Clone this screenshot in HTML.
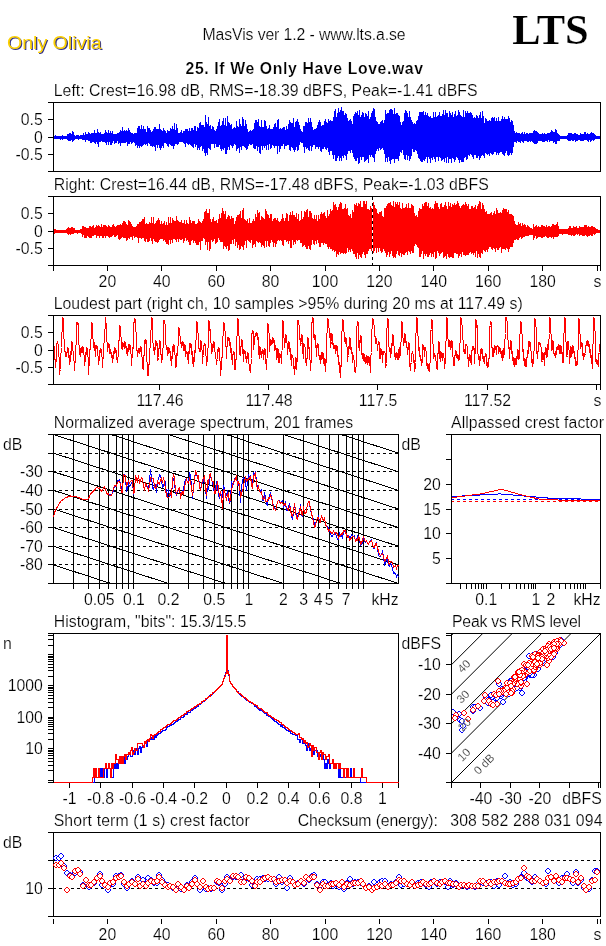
<!DOCTYPE html>
<html lang="en"><head><meta charset="utf-8"><title>MasVis - 25. If We Only Have Love.wav</title>
<style>html,body{margin:0;padding:0;background:#fff}svg{display:block}text{white-space:pre;stroke:#fff;stroke-width:.2px}.ns text,text.ns{stroke:none}</style></head>
<body>
<svg width="606" height="946" viewBox="0 0 606 946" font-family="'Liberation Sans', Arial, Helvetica, sans-serif" font-size="15.8" fill="#000">
<rect width="606" height="946" fill="#fff"/>
<g font-size="19.2" class="ns">
<text x="8.1" y="49.7" fill="#34348a" textLength="94.5" lengthAdjust="spacingAndGlyphs">Only Olivia</text>
<text x="7" y="48.6" fill="#fcd000" textLength="94.5" lengthAdjust="spacingAndGlyphs">Only Olivia</text>
</g>
<text x="304" y="40" text-anchor="middle" textLength="203" lengthAdjust="spacing">MasVis ver 1.2 - www.lts.a.se</text>
<text x="550.4" y="44.2" text-anchor="middle" font-weight="bold" font-size="42.5" font-family="'Liberation Serif', 'Times New Roman', serif" textLength="76.5" lengthAdjust="spacing">LTS</text>
<text x="304.3" y="74" text-anchor="middle" font-weight="bold" textLength="237.5" lengthAdjust="spacing">25. If We Only Have Love.wav</text>
<g stroke="#000" stroke-width="1" fill="none" shape-rendering="crispEdges">
<path d="M54.5 136V139M55.5 135V139M56.5 136V139M57.5 136V139M58.5 136V139M59.5 136V139M60.5 136V140M61.5 136V139M62.5 135V140M63.5 136V139M64.5 136V139M65.5 136V139M66.5 136V139M67.5 134V140M68.5 134V141M69.5 133V141M70.5 133V141M71.5 134V140M72.5 131V142M73.5 132V141M74.5 135V140M75.5 136V139M76.5 135V139M77.5 135V139M78.5 135V140M79.5 136V139M80.5 135V139M81.5 135V139M82.5 135V140M83.5 133V140M84.5 135V140M85.5 132V142M86.5 134V140M87.5 134V140M88.5 132V141M89.5 133V141M90.5 134V143M91.5 133V143M92.5 133V142M93.5 133V142M94.5 130V143M95.5 133V144M96.5 133V142M97.5 129V144M98.5 132V147M99.5 133V142M100.5 132V142M101.5 134V141M102.5 134V142M103.5 134V142M104.5 133V142M105.5 130V143M106.5 132V145M107.5 133V142M108.5 130V145M109.5 133V142M110.5 131V145M111.5 133V145M112.5 131V143M113.5 134V141M114.5 134V144M115.5 134V143M116.5 134V143M117.5 133V141M118.5 133V144M119.5 132V143M120.5 130V146M121.5 131V143M122.5 127V143M123.5 131V143M124.5 130V143M125.5 131V143M126.5 130V142M127.5 131V146M128.5 128V144M129.5 130V144M130.5 132V142M131.5 133V144M132.5 133V143M133.5 134V142M134.5 133V143M135.5 133V146M136.5 133V145M137.5 128V148M138.5 126V146M139.5 126V148M140.5 129V146M141.5 125V147M142.5 129V146M143.5 126V145M144.5 129V144M145.5 129V145M146.5 132V144M147.5 126V146M148.5 128V143M149.5 128V144M150.5 130V146M151.5 132V146M152.5 131V147M153.5 129V146M154.5 127V147M155.5 127V151M156.5 129V145M157.5 129V148M158.5 129V145M159.5 124V148M160.5 129V150M161.5 130V148M162.5 131V146M163.5 128V148M164.5 130V143M165.5 131V143M166.5 133V144M167.5 130V146M168.5 131V147M169.5 131V144M170.5 128V145M171.5 129V146M172.5 126V146M173.5 129V149M174.5 123V146M175.5 130V144M176.5 124V144M177.5 128V145M178.5 133V144M179.5 133V142M180.5 132V142M181.5 130V142M182.5 133V142M183.5 131V143M184.5 131V144M185.5 129V147M186.5 129V143M187.5 129V144M188.5 131V145M189.5 128V144M190.5 131V145M191.5 128V146M192.5 128V147M193.5 130V148M194.5 126V144M195.5 126V147M196.5 131V145M197.5 127V150M198.5 128V148M199.5 123V150M200.5 122V147M201.5 125V146M202.5 125V151M203.5 125V149M204.5 127V153M205.5 115V156M206.5 122V153M207.5 124V155M208.5 117V148M209.5 126V149M210.5 125V150M211.5 129V144M212.5 126V144M213.5 127V144M214.5 130V148M215.5 131V144M216.5 129V147M217.5 126V147M218.5 122V147M219.5 119V145M220.5 126V149M221.5 125V151M222.5 121V149M223.5 118V150M224.5 125V148M225.5 118V154M226.5 126V154M227.5 116V150M228.5 122V147M229.5 123V150M230.5 125V145M231.5 124V146M232.5 129V148M233.5 128V146M234.5 127V144M235.5 128V145M236.5 121V151M237.5 126V149M238.5 127V148M239.5 119V153M240.5 124V147M241.5 126V150M242.5 117V146M243.5 119V146M244.5 126V147M245.5 120V148M246.5 124V150M247.5 129V149M248.5 132V146M249.5 131V144M250.5 130V145M251.5 131V145M252.5 130V144M253.5 129V148M254.5 123V149M255.5 120V149M256.5 120V146M257.5 122V151M258.5 119V147M259.5 126V153M260.5 127V154M261.5 120V146M262.5 127V150M263.5 127V146M264.5 120V148M265.5 121V146M266.5 126V150M267.5 129V145M268.5 128V150M269.5 125V144M270.5 129V149M271.5 129V148M272.5 129V145M273.5 127V146M274.5 124V148M275.5 123V146M276.5 127V146M277.5 120V154M278.5 119V146M279.5 129V152M280.5 128V149M281.5 129V146M282.5 128V146M283.5 127V144M284.5 127V149M285.5 130V146M286.5 126V146M287.5 129V145M288.5 124V145M289.5 120V150M290.5 122V151M291.5 123V147M292.5 123V148M293.5 118V150M294.5 127V152M295.5 122V150M296.5 121V147M297.5 119V151M298.5 122V150M299.5 125V145M300.5 129V142M301.5 131V143M302.5 132V143M303.5 126V147M304.5 126V153M305.5 122V147M306.5 122V149M307.5 123V148M308.5 118V150M309.5 122V151M310.5 118V146M311.5 122V151M312.5 127V147M313.5 130V145M314.5 129V145M315.5 129V149M316.5 128V147M317.5 125V147M318.5 122V149M319.5 120V147M320.5 122V151M321.5 126V152M322.5 125V149M323.5 125V149M324.5 121V147M325.5 119V149M326.5 122V150M327.5 123V148M328.5 119V152M329.5 121V155M330.5 120V151M331.5 121V151M332.5 121V155M333.5 117V159M334.5 111V155M335.5 109V161M336.5 117V161M337.5 113V158M338.5 108V156M339.5 112V161M340.5 110V158M341.5 107V161M342.5 111V156M343.5 111V158M344.5 115V155M345.5 113V156M346.5 114V160M347.5 118V154M348.5 121V151M349.5 120V151M350.5 119V153M351.5 121V150M352.5 124V153M353.5 116V157M354.5 114V159M355.5 112V161M356.5 113V161M357.5 111V158M358.5 115V164M359.5 110V163M360.5 117V157M361.5 115V160M362.5 112V157M363.5 113V157M364.5 117V162M365.5 113V161M366.5 114V160M367.5 116V159M368.5 111V163M369.5 119V155M370.5 117V157M371.5 113V155M372.5 111V157M373.5 108V158M374.5 109V162M375.5 117V154M376.5 121V151M377.5 122V149M378.5 124V151M379.5 124V148M380.5 122V150M381.5 121V149M382.5 120V148M383.5 123V150M384.5 120V154M385.5 110V162M386.5 114V158M387.5 113V162M388.5 113V157M389.5 110V161M390.5 109V164M391.5 109V160M392.5 110V159M393.5 114V159M394.5 108V163M395.5 114V159M396.5 113V159M397.5 113V159M398.5 115V161M399.5 116V156M400.5 122V152M401.5 125V153M402.5 122V150M403.5 121V155M404.5 113V159M405.5 110V160M406.5 111V155M407.5 113V160M408.5 117V156M409.5 111V161M410.5 117V159M411.5 120V156M412.5 122V149M413.5 124V152M414.5 123V152M415.5 124V150M416.5 121V151M417.5 120V154M418.5 116V158M419.5 112V159M420.5 112V161M421.5 112V162M422.5 112V162M423.5 111V160M424.5 115V161M425.5 112V159M426.5 115V157M427.5 113V163M428.5 116V157M429.5 117V159M430.5 116V163M431.5 118V158M432.5 118V160M433.5 112V157M434.5 117V159M435.5 112V162M436.5 117V157M437.5 116V157M438.5 115V161M439.5 112V157M440.5 116V158M441.5 116V161M442.5 114V160M443.5 110V159M444.5 115V162M445.5 110V158M446.5 113V163M447.5 113V157M448.5 117V163M449.5 111V159M450.5 113V159M451.5 115V163M452.5 112V158M453.5 117V159M454.5 114V162M455.5 111V160M456.5 116V157M457.5 115V158M458.5 110V160M459.5 112V163M460.5 115V160M461.5 116V162M462.5 117V162M463.5 110V162M464.5 117V158M465.5 111V157M466.5 113V160M467.5 111V159M468.5 113V155M469.5 113V156M470.5 112V154M471.5 113V155M472.5 115V157M473.5 118V159M474.5 117V155M475.5 118V155M476.5 115V158M477.5 116V158M478.5 118V156M479.5 115V160M480.5 112V158M481.5 118V156M482.5 111V155M483.5 116V156M484.5 123V158M485.5 118V153M486.5 119V154M487.5 121V155M488.5 121V154M489.5 120V156M490.5 121V153M491.5 118V154M492.5 117V155M493.5 118V154M494.5 117V152M495.5 121V152M496.5 118V155M497.5 121V153M498.5 117V155M499.5 121V153M500.5 121V152M501.5 119V152M502.5 116V154M503.5 119V155M504.5 117V156M505.5 119V153M506.5 119V151M507.5 119V155M508.5 116V156M509.5 118V155M510.5 122V153M511.5 120V155M512.5 121V153M513.5 125V147M514.5 131V142M515.5 133V142M516.5 132V143M517.5 133V141M518.5 133V142M519.5 133V142M520.5 134V143M521.5 133V141M522.5 132V142M523.5 134V143M524.5 132V141M525.5 134V141M526.5 133V141M527.5 133V142M528.5 134V142M529.5 133V141M530.5 133V142M531.5 133V141M532.5 133V142M533.5 131V143M534.5 130V144M535.5 131V144M536.5 131V144M537.5 132V143M538.5 133V141M539.5 134V141M540.5 134V141M541.5 134V141M542.5 133V142M543.5 134V142M544.5 133V142M545.5 134V141M546.5 134V141M547.5 133V142M548.5 133V140M549.5 133V142M550.5 132V141M551.5 130V141M552.5 131V141M553.5 132V143M554.5 132V142M555.5 129V144M556.5 130V144M557.5 133V141M558.5 134V141M559.5 135V141M560.5 136V139M561.5 136V139M562.5 136V139M563.5 136V139M564.5 136V139M565.5 136V139M566.5 136V139M567.5 135V140M568.5 133V141M569.5 133V141M570.5 133V141M571.5 133V140M572.5 134V141M573.5 134V141M574.5 133V140M575.5 133V142M576.5 134V141M577.5 134V141M578.5 135V140M579.5 135V140M580.5 133V141M581.5 134V141M582.5 134V141M583.5 134V141M584.5 132V140M585.5 132V140M586.5 134V140M587.5 133V141M588.5 134V142M589.5 134V140M590.5 133V142M591.5 132V141M592.5 133V140M593.5 133V141M594.5 134V140M595.5 135V139M596.5 136V139M597.5 136V139M598.5 136V139M599.5 136V139" stroke="#0000ff"/>
<rect x="53.5" y="102.5" width="547" height="69" fill="none"/>
<path d="M48 102.5H53"/>
<path d="M48 119.5H53"/>
<path d="M48 137.5H53"/>
<path d="M48 154.5H53"/>
<path d="M48 171.5H53"/>
<path d="M54.5 229V234M55.5 229V233M56.5 230V233M57.5 230V233M58.5 230V233M59.5 230V233M60.5 230V233M61.5 230V233M62.5 230V233M63.5 230V233M64.5 230V233M65.5 230V233M66.5 229V233M67.5 228V234M68.5 227V235M69.5 228V234M70.5 228V235M71.5 227V234M72.5 227V234M73.5 228V234M74.5 228V233M75.5 230V233M76.5 230V233M77.5 230V234M78.5 230V233M79.5 230V233M80.5 229V233M81.5 229V234M82.5 226V237M83.5 226V235M84.5 227V238M85.5 227V238M86.5 228V238M87.5 228V236M88.5 228V237M89.5 226V238M90.5 226V238M91.5 227V238M92.5 226V236M93.5 225V236M94.5 228V235M95.5 227V235M96.5 225V238M97.5 226V236M98.5 225V236M99.5 226V238M100.5 227V236M101.5 224V236M102.5 227V238M103.5 225V238M104.5 225V236M105.5 225V238M106.5 226V236M107.5 227V236M108.5 225V237M109.5 226V238M110.5 227V237M111.5 227V237M112.5 225V236M113.5 224V235M114.5 226V237M115.5 227V237M116.5 226V236M117.5 225V235M118.5 225V239M119.5 225V240M120.5 224V239M121.5 225V238M122.5 223V237M123.5 221V238M124.5 221V238M125.5 222V238M126.5 224V241M127.5 225V240M128.5 220V238M129.5 221V239M130.5 222V237M131.5 224V237M132.5 226V240M133.5 227V236M134.5 227V238M135.5 227V237M136.5 226V237M137.5 224V238M138.5 224V243M139.5 222V238M140.5 222V238M141.5 221V239M142.5 219V238M143.5 219V238M144.5 217V241M145.5 224V242M146.5 223V239M147.5 224V242M148.5 224V242M149.5 222V241M150.5 223V238M151.5 217V241M152.5 223V244M153.5 217V239M154.5 224V241M155.5 223V242M156.5 221V242M157.5 220V243M158.5 218V242M159.5 220V240M160.5 224V239M161.5 221V239M162.5 224V239M163.5 223V241M164.5 221V240M165.5 225V242M166.5 222V244M167.5 225V244M168.5 217V245M169.5 223V240M170.5 217V244M171.5 223V240M172.5 218V243M173.5 220V239M174.5 221V239M175.5 221V240M176.5 216V242M177.5 220V239M178.5 221V242M179.5 222V239M180.5 222V240M181.5 220V240M182.5 223V239M183.5 223V243M184.5 220V241M185.5 224V238M186.5 220V241M187.5 223V240M188.5 224V242M189.5 217V245M190.5 220V245M191.5 223V241M192.5 221V240M193.5 221V243M194.5 221V241M195.5 224V243M196.5 224V245M197.5 223V245M198.5 219V245M199.5 221V242M200.5 222V250M201.5 223V241M202.5 221V241M203.5 219V238M204.5 212V239M205.5 211V245M206.5 209V242M207.5 213V250M208.5 213V242M209.5 209V251M210.5 219V249M211.5 222V240M212.5 219V242M213.5 217V241M214.5 221V239M215.5 221V244M216.5 220V243M217.5 223V242M218.5 219V238M219.5 214V240M220.5 218V242M221.5 213V242M222.5 208V242M223.5 211V249M224.5 214V246M225.5 211V247M226.5 219V249M227.5 217V246M228.5 215V251M229.5 216V250M230.5 219V244M231.5 216V244M232.5 218V240M233.5 218V244M234.5 224V239M235.5 221V246M236.5 217V242M237.5 215V248M238.5 215V245M239.5 214V250M240.5 211V249M241.5 218V246M242.5 210V247M243.5 208V250M244.5 219V245M245.5 220V241M246.5 221V248M247.5 219V240M248.5 223V241M249.5 218V242M250.5 223V243M251.5 223V240M252.5 221V248M253.5 219V245M254.5 221V244M255.5 214V247M256.5 217V241M257.5 210V242M258.5 213V243M259.5 212V242M260.5 220V243M261.5 216V247M262.5 217V245M263.5 218V246M264.5 219V248M265.5 209V241M266.5 211V247M267.5 214V241M268.5 215V246M269.5 218V247M270.5 214V243M271.5 214V240M272.5 221V242M273.5 219V247M274.5 218V243M275.5 218V247M276.5 220V244M277.5 218V241M278.5 221V240M279.5 222V241M280.5 221V240M281.5 219V241M282.5 214V245M283.5 218V246M284.5 221V240M285.5 218V240M286.5 213V242M287.5 214V241M288.5 221V244M289.5 215V241M290.5 212V248M291.5 215V248M292.5 211V240M293.5 215V245M294.5 215V242M295.5 217V244M296.5 213V240M297.5 219V241M298.5 214V240M299.5 221V240M300.5 220V243M301.5 211V243M302.5 219V247M303.5 217V246M304.5 211V245M305.5 212V247M306.5 210V249M307.5 209V249M308.5 217V246M309.5 211V249M310.5 211V250M311.5 213V245M312.5 218V240M313.5 219V244M314.5 215V245M315.5 219V241M316.5 215V244M317.5 221V240M318.5 215V243M319.5 219V247M320.5 214V247M321.5 212V243M322.5 214V243M323.5 213V245M324.5 212V243M325.5 216V244M326.5 218V244M327.5 210V247M328.5 216V249M329.5 214V247M330.5 209V249M331.5 211V249M332.5 210V251M333.5 202V250M334.5 205V252M335.5 204V251M336.5 207V257M337.5 210V254M338.5 207V255M339.5 204V252M340.5 202V254M341.5 203V253M342.5 209V253M343.5 209V254M344.5 208V253M345.5 204V254M346.5 209V253M347.5 208V248M348.5 215V252M349.5 216V250M350.5 214V252M351.5 218V249M352.5 210V251M353.5 212V254M354.5 204V254M355.5 205V257M356.5 203V259M357.5 206V253M358.5 203V259M359.5 204V255M360.5 201V257M361.5 207V258M362.5 207V254M363.5 201V252M364.5 201V255M365.5 204V258M366.5 201V254M367.5 209V254M368.5 209V251M369.5 210V249M370.5 206V249M371.5 208V251M372.5 209V255M373.5 202V253M374.5 205V251M375.5 208V248M376.5 209V253M377.5 213V248M378.5 214V252M379.5 212V248M380.5 212V251M381.5 211V253M382.5 216V252M383.5 217V249M384.5 208V251M385.5 208V253M386.5 206V257M387.5 204V255M388.5 203V252M389.5 203V257M390.5 202V254M391.5 205V251M392.5 206V256M393.5 201V258M394.5 207V257M395.5 202V258M396.5 204V254M397.5 202V251M398.5 205V255M399.5 202V256M400.5 208V253M401.5 209V257M402.5 203V254M403.5 208V255M404.5 208V255M405.5 207V253M406.5 204V252M407.5 208V255M408.5 203V251M409.5 208V252M410.5 208V254M411.5 204V251M412.5 205V253M413.5 206V253M414.5 213V246M415.5 216V244M416.5 215V245M417.5 217V247M418.5 211V248M419.5 208V257M420.5 209V257M421.5 209V254M422.5 204V251M423.5 206V259M424.5 203V254M425.5 202V256M426.5 202V254M427.5 206V257M428.5 203V257M429.5 208V255M430.5 207V253M431.5 209V257M432.5 208V254M433.5 209V257M434.5 204V252M435.5 201V259M436.5 203V258M437.5 203V251M438.5 207V253M439.5 209V256M440.5 204V254M441.5 203V253M442.5 207V252M443.5 207V258M444.5 205V257M445.5 202V256M446.5 206V259M447.5 209V254M448.5 202V257M449.5 206V258M450.5 203V257M451.5 207V257M452.5 204V258M453.5 205V258M454.5 203V253M455.5 205V253M456.5 204V254M457.5 201V254M458.5 203V258M459.5 206V256M460.5 208V254M461.5 206V257M462.5 205V252M463.5 204V255M464.5 205V255M465.5 202V256M466.5 204V255M467.5 206V255M468.5 204V255M469.5 209V253M470.5 209V252M471.5 206V254M472.5 206V253M473.5 208V255M474.5 207V253M475.5 205V257M476.5 209V251M477.5 206V258M478.5 204V254M479.5 201V257M480.5 202V258M481.5 209V253M482.5 203V254M483.5 205V250M484.5 209V251M485.5 212V252M486.5 211V250M487.5 214V252M488.5 214V249M489.5 214V247M490.5 213V247M491.5 212V249M492.5 215V250M493.5 213V248M494.5 211V249M495.5 214V252M496.5 208V248M497.5 210V250M498.5 213V250M499.5 213V248M500.5 212V247M501.5 213V253M502.5 210V249M503.5 208V249M504.5 209V249M505.5 209V250M506.5 209V248M507.5 212V249M508.5 210V252M509.5 214V249M510.5 214V247M511.5 214V247M512.5 215V247M513.5 216V243M514.5 221V240M515.5 224V240M516.5 225V239M517.5 225V240M518.5 222V240M519.5 224V238M520.5 223V237M521.5 226V239M522.5 223V238M523.5 225V237M524.5 224V237M525.5 225V236M526.5 227V236M527.5 225V236M528.5 226V236M529.5 227V235M530.5 228V235M531.5 228V235M532.5 229V235M533.5 224V240M534.5 227V238M535.5 226V236M536.5 225V239M537.5 227V238M538.5 226V237M539.5 227V237M540.5 227V237M541.5 225V238M542.5 225V238M543.5 226V237M544.5 226V237M545.5 227V236M546.5 225V237M547.5 227V238M548.5 226V238M549.5 226V237M550.5 227V237M551.5 226V238M552.5 224V237M553.5 224V239M554.5 225V237M555.5 225V237M556.5 224V237M557.5 222V237M558.5 226V236M559.5 229V234M560.5 229V234M561.5 229V234M562.5 229V235M563.5 229V234M564.5 229V234M565.5 229V234M566.5 229V234M567.5 229V234M568.5 228V235M569.5 226V235M570.5 226V235M571.5 228V236M572.5 228V235M573.5 226V236M574.5 227V236M575.5 227V235M576.5 226V234M577.5 228V235M578.5 228V234M579.5 226V236M580.5 227V235M581.5 227V235M582.5 227V236M583.5 227V236M584.5 225V236M585.5 225V235M586.5 225V236M587.5 227V237M588.5 226V236M589.5 227V236M590.5 227V235M591.5 226V236M592.5 226V236M593.5 227V234M594.5 227V235M595.5 228V234M596.5 229V233M597.5 229V233M598.5 230V233M599.5 230V233" stroke="#ff0000"/>
<path d="M372.5 197V265" stroke="#fff"/>
<path d="M372.5 197V265" stroke-dasharray="3 3"/>
<rect x="53.5" y="196.5" width="547" height="69" fill="none"/>
<path d="M48 196.5H53"/>
<path d="M48 213.5H53"/>
<path d="M48 231.5H53"/>
<path d="M48 248.5H53"/>
<path d="M48 265.5H53"/>
<path d="M53.5 266V271"/>
<path d="M107.5 266V271"/>
<path d="M161.5 266V271"/>
<path d="M216.5 266V271"/>
<path d="M270.5 266V271"/>
<path d="M325.5 266V271"/>
<path d="M379.5 266V271"/>
<path d="M433.5 266V271"/>
<path d="M488.5 266V271"/>
<path d="M542.5 266V271"/>
<path d="M597.5 266V271"/>
<path d="M600.5 266V271"/>
<path d="M53.5 347.5L54.0 345.5L54.5 359.5L55.0 358.5L55.5 367.5L56.0 362.5L56.5 358.5L57.0 343.5L57.5 342.5L58.0 343.5L58.5 355.5L59.0 356.5L59.5 374.5L60.0 370.5L60.5 369.5L61.0 353.5L61.5 347.5L62.0 332.5L62.5 323.5L63.0 317.5L63.5 335.5L64.0 338.5L64.5 347.5L65.0 351.5L65.5 356.5L66.0 351.5L66.5 356.5L67.0 353.5L67.5 349.5L68.0 347.5L68.5 357.5L69.0 354.5L69.5 364.5L70.0 359.5L70.5 361.5L71.0 351.5L71.5 354.5L72.0 341.5L72.5 348.5L73.0 350.5L73.5 358.5L74.0 360.5L74.5 370.5L75.0 361.5L75.5 362.5L76.0 345.5L76.5 334.5L77.0 322.5L77.5 323.5L78.0 322.5L78.5 342.5L79.0 344.5L79.5 354.5L80.0 349.5L80.5 356.5L81.0 348.5L81.5 352.5L82.0 347.5L82.5 352.5L83.0 346.5L83.5 352.5L84.0 354.5L84.5 365.5L85.0 359.5L85.5 361.5L86.0 352.5L86.5 353.5L87.0 347.5L87.5 356.5L88.0 356.5L88.5 374.5L89.0 366.5L89.5 362.5L90.0 349.5L90.5 349.5L91.0 339.5L91.5 325.5L92.0 322.5L92.5 333.5L93.0 338.5L93.5 347.5L94.0 341.5L94.5 350.5L95.0 346.5L95.5 356.5L96.0 345.5L96.5 348.5L97.0 345.5L97.5 354.5L98.0 355.5L98.5 364.5L99.0 357.5L99.5 360.5L100.0 350.5L100.5 352.5L101.0 348.5L101.5 355.5L102.0 356.5L102.5 367.5L103.0 358.5L103.5 356.5L104.0 343.5L104.5 339.5L105.0 329.5L105.5 317.5L106.0 322.5L106.5 338.5L107.0 341.5L107.5 351.5L108.0 344.5L108.5 347.5L109.0 343.5L109.5 353.5L110.0 348.5L110.5 353.5L111.0 351.5L111.5 357.5L112.0 354.5L112.5 362.5L113.0 355.5L113.5 358.5L114.0 351.5L114.5 352.5L115.0 347.5L115.5 352.5L116.0 349.5L116.5 359.5L117.0 359.5L117.5 362.5L118.0 357.5L118.5 352.5L119.0 340.5L119.5 338.5L120.0 325.5L120.5 334.5L121.0 336.5L121.5 348.5L122.0 346.5L122.5 349.5L123.0 342.5L123.5 345.5L124.0 344.5L124.5 348.5L125.0 341.5L125.5 347.5L126.0 345.5L126.5 353.5L127.0 348.5L127.5 355.5L128.0 348.5L128.5 351.5L129.0 344.5L129.5 349.5L130.0 344.5L130.5 352.5L131.0 353.5L131.5 365.5L132.0 357.5L132.5 357.5L133.0 347.5L133.5 348.5L134.0 322.5L134.5 320.5L135.0 318.5L135.5 330.5L136.0 331.5L136.5 348.5L137.0 350.5L137.5 356.5L138.0 350.5L138.5 351.5L139.0 348.5L139.5 353.5L140.0 348.5L140.5 351.5L141.0 346.5L141.5 354.5L142.0 356.5L142.5 368.5L143.0 365.5L143.5 369.5L144.0 355.5L144.5 353.5L145.0 340.5L145.5 343.5L146.0 339.5L146.5 355.5L147.0 361.5L147.5 375.5L148.0 375.5L148.5 373.5L149.0 364.5L149.5 364.5L150.0 348.5L150.5 337.5L151.0 330.5L151.5 322.5L152.0 317.5L152.5 335.5L153.0 342.5L153.5 350.5L154.0 347.5L154.5 354.5L155.0 347.5L155.5 349.5L156.0 340.5L156.5 345.5L157.0 342.5L157.5 358.5L158.0 360.5L158.5 357.5L159.0 348.5L159.5 348.5L160.0 340.5L160.5 354.5L161.0 353.5L161.5 362.5L162.0 359.5L162.5 359.5L163.0 348.5L163.5 339.5L164.0 320.5L164.5 321.5L165.0 323.5L165.5 344.5L166.0 344.5L166.5 349.5L167.0 346.5L167.5 355.5L168.0 351.5L168.5 353.5L169.0 347.5L169.5 352.5L170.0 350.5L170.5 360.5L171.0 357.5L171.5 365.5L172.0 356.5L172.5 357.5L173.0 346.5L173.5 351.5L174.0 344.5L174.5 353.5L175.0 354.5L175.5 367.5L176.0 364.5L176.5 366.5L177.0 353.5L177.5 354.5L178.0 346.5L178.5 338.5L179.0 327.5L179.5 332.5L180.0 335.5L180.5 343.5L181.0 341.5L181.5 347.5L182.0 343.5L182.5 345.5L183.0 341.5L183.5 350.5L184.0 346.5L184.5 350.5L185.0 344.5L185.5 356.5L186.0 353.5L186.5 353.5L187.0 351.5L187.5 358.5L188.0 359.5L188.5 363.5L189.0 351.5L189.5 352.5L190.0 343.5L190.5 347.5L191.0 343.5L191.5 354.5L192.0 350.5L192.5 362.5L193.0 363.5L193.5 366.5L194.0 357.5L194.5 361.5L195.0 350.5L195.5 351.5L196.0 340.5L196.5 332.5L197.0 321.5L197.5 331.5L198.0 332.5L198.5 348.5L199.0 348.5L199.5 351.5L200.0 348.5L200.5 351.5L201.0 340.5L201.5 347.5L202.0 349.5L202.5 363.5L203.0 356.5L203.5 355.5L204.0 345.5L204.5 344.5L205.0 343.5L205.5 352.5L206.0 355.5L206.5 365.5L207.0 361.5L207.5 359.5L208.0 348.5L208.5 343.5L209.0 320.5L209.5 330.5L210.0 328.5L210.5 341.5L211.0 342.5L211.5 353.5L212.0 346.5L212.5 351.5L213.0 344.5L213.5 347.5L214.0 341.5L214.5 349.5L215.0 351.5L215.5 357.5L216.0 358.5L216.5 364.5L217.0 360.5L217.5 359.5L218.0 349.5L218.5 351.5L219.0 347.5L219.5 357.5L220.0 360.5L220.5 375.5L221.0 367.5L221.5 369.5L222.0 357.5L222.5 355.5L223.0 336.5L223.5 325.5L224.0 322.5L224.5 329.5L225.0 330.5L225.5 345.5L226.0 346.5L226.5 358.5L227.0 346.5L227.5 346.5L228.0 337.5L228.5 340.5L229.0 337.5L229.5 345.5L230.0 341.5L230.5 352.5L231.0 347.5L231.5 358.5L232.0 357.5L232.5 364.5L233.0 354.5L233.5 354.5L234.0 351.5L234.5 368.5L235.0 369.5L235.5 369.5L236.0 359.5L236.5 357.5L237.0 336.5L237.5 327.5L238.0 318.5L238.5 330.5L239.0 335.5L239.5 354.5L240.0 347.5L240.5 355.5L241.0 346.5L241.5 346.5L242.0 339.5L242.5 347.5L243.0 353.5L243.5 361.5L244.0 349.5L244.5 353.5L245.0 350.5L245.5 357.5L246.0 356.5L246.5 362.5L247.0 356.5L247.5 358.5L248.0 352.5L248.5 363.5L249.0 363.5L249.5 370.5L250.0 364.5L250.5 372.5L251.0 364.5L251.5 358.5L252.0 333.5L252.5 331.5L253.0 330.5L253.5 349.5L254.0 339.5L254.5 344.5L255.0 336.5L255.5 336.5L256.0 333.5L256.5 335.5L257.0 332.5L257.5 339.5L258.0 336.5L258.5 353.5L259.0 354.5L259.5 358.5L260.0 346.5L260.5 354.5L261.0 352.5L261.5 357.5L262.0 351.5L262.5 353.5L263.0 349.5L263.5 359.5L264.0 352.5L264.5 354.5L265.0 348.5L265.5 359.5L266.0 363.5L266.5 369.5L267.0 359.5L267.5 336.5L268.0 323.5L268.5 327.5L269.0 332.5L269.5 351.5L270.0 345.5L270.5 345.5L271.0 339.5L271.5 344.5L272.0 341.5L272.5 342.5L273.0 337.5L273.5 342.5L274.0 339.5L274.5 350.5L275.0 344.5L275.5 349.5L276.0 347.5L276.5 359.5L277.0 354.5L277.5 357.5L278.0 348.5L278.5 362.5L279.0 357.5L279.5 362.5L280.0 353.5L280.5 357.5L281.0 354.5L281.5 363.5L282.0 351.5L282.5 329.5L283.0 320.5L283.5 326.5L284.0 337.5L284.5 347.5L285.0 339.5L285.5 342.5L286.0 334.5L286.5 342.5L287.0 342.5L287.5 354.5L288.0 348.5L288.5 348.5L289.0 341.5L289.5 351.5L290.0 347.5L290.5 358.5L291.0 357.5L291.5 365.5L292.0 354.5L292.5 357.5L293.0 357.5L293.5 368.5L294.0 365.5L294.5 374.5L295.0 366.5L295.5 367.5L296.0 357.5L296.5 369.5L297.0 362.5L297.5 344.5L298.0 320.5L298.5 321.5L299.0 324.5L299.5 339.5L300.0 337.5L300.5 345.5L301.0 343.5L301.5 342.5L302.0 334.5L302.5 349.5L303.0 353.5L303.5 358.5L304.0 343.5L304.5 346.5L305.0 346.5L305.5 362.5L306.0 357.5L306.5 365.5L307.0 359.5L307.5 355.5L308.0 337.5L308.5 348.5L309.0 346.5L309.5 358.5L310.0 359.5L310.5 370.5L311.0 363.5L311.5 359.5L312.0 322.5L312.5 322.5L313.0 317.5L313.5 331.5L314.0 337.5L314.5 338.5L315.0 334.5L315.5 342.5L316.0 347.5L316.5 356.5L317.0 345.5L317.5 347.5L318.0 343.5L318.5 355.5L319.0 354.5L319.5 358.5L320.0 359.5L320.5 363.5L321.0 355.5L321.5 359.5L322.0 352.5L322.5 358.5L323.0 352.5L323.5 363.5L324.0 357.5L324.5 365.5L325.0 358.5L325.5 371.5L326.0 362.5L326.5 360.5L327.0 333.5L327.5 320.5L328.0 318.5L328.5 326.5L329.0 327.5L329.5 337.5L330.0 332.5L330.5 347.5L331.0 344.5L331.5 341.5L332.0 333.5L332.5 343.5L333.0 342.5L333.5 348.5L334.0 345.5L334.5 348.5L335.0 345.5L335.5 353.5L336.0 345.5L336.5 350.5L337.0 345.5L337.5 356.5L338.0 354.5L338.5 364.5L339.0 361.5L339.5 372.5L340.0 365.5L340.5 377.5L341.0 365.5L341.5 366.5L342.0 331.5L342.5 322.5L343.0 319.5L343.5 331.5L344.0 331.5L344.5 340.5L345.0 339.5L345.5 343.5L346.0 337.5L346.5 343.5L347.0 346.5L347.5 361.5L348.0 356.5L348.5 355.5L349.0 346.5L349.5 348.5L350.0 337.5L350.5 349.5L351.0 346.5L351.5 353.5L352.0 351.5L352.5 362.5L353.0 354.5L353.5 359.5L354.0 359.5L354.5 371.5L355.0 368.5L355.5 372.5L356.0 367.5L356.5 362.5L357.0 326.5L357.5 322.5L358.0 321.5L358.5 338.5L359.0 347.5L359.5 350.5L360.0 340.5L360.5 342.5L361.0 335.5L361.5 352.5L362.0 354.5L362.5 358.5L363.0 353.5L363.5 360.5L364.0 353.5L364.5 361.5L365.0 356.5L365.5 363.5L366.0 358.5L366.5 362.5L367.0 355.5L367.5 364.5L368.0 359.5L368.5 362.5L369.0 356.5L369.5 364.5L370.0 363.5L370.5 372.5L371.0 355.5L371.5 352.5L372.0 329.5L372.5 324.5L373.0 318.5L373.5 324.5L374.0 324.5L374.5 336.5L375.0 335.5L375.5 343.5L376.0 337.5L376.5 342.5L377.0 343.5L377.5 350.5L378.0 344.5L378.5 344.5L379.0 341.5L379.5 350.5L380.0 358.5L380.5 358.5L381.0 348.5L381.5 354.5L382.0 352.5L382.5 362.5L383.0 351.5L383.5 354.5L384.0 351.5L384.5 351.5L385.0 352.5L385.5 367.5L386.0 366.5L386.5 363.5L387.0 328.5L387.5 324.5L388.0 318.5L388.5 345.5L389.0 346.5L389.5 351.5L390.0 347.5L390.5 357.5L391.0 353.5L391.5 353.5L392.0 343.5L392.5 344.5L393.0 334.5L393.5 344.5L394.0 345.5L394.5 356.5L395.0 356.5L395.5 359.5L396.0 353.5L396.5 357.5L397.0 352.5L397.5 359.5L398.0 357.5L398.5 358.5L399.0 349.5L399.5 357.5L400.0 347.5L400.5 355.5L401.0 342.5L401.5 330.5L402.0 321.5L402.5 332.5L403.0 337.5L403.5 345.5L404.0 338.5L404.5 342.5L405.0 333.5L405.5 341.5L406.0 340.5L406.5 347.5L407.0 347.5L407.5 354.5L408.0 347.5L408.5 349.5L409.0 342.5L409.5 354.5L410.0 366.5L410.5 370.5L411.0 363.5L411.5 362.5L412.0 353.5L412.5 352.5L413.0 353.5L413.5 362.5L414.0 359.5L414.5 371.5L415.0 369.5L415.5 362.5L416.0 333.5L416.5 320.5L417.0 317.5L417.5 326.5L418.0 335.5L418.5 350.5L419.0 346.5L419.5 356.5L420.0 354.5L420.5 360.5L421.0 358.5L421.5 364.5L422.0 363.5L422.5 358.5L423.0 344.5L423.5 349.5L424.0 347.5L424.5 356.5L425.0 347.5L425.5 348.5L426.0 350.5L426.5 365.5L427.0 365.5L427.5 368.5L428.0 363.5L428.5 369.5L429.0 368.5L429.5 371.5L430.0 363.5L430.5 353.5L431.0 330.5L431.5 329.5L432.0 319.5L432.5 339.5L433.0 343.5L433.5 358.5L434.0 352.5L434.5 356.5L435.0 354.5L435.5 358.5L436.0 360.5L436.5 368.5L437.0 363.5L437.5 369.5L438.0 353.5L438.5 351.5L439.0 341.5L439.5 353.5L440.0 358.5L440.5 361.5L441.0 351.5L441.5 357.5L442.0 355.5L442.5 360.5L443.0 353.5L443.5 355.5L444.0 357.5L444.5 368.5L445.0 364.5L445.5 360.5L446.0 341.5L446.5 328.5L447.0 317.5L447.5 327.5L448.0 338.5L448.5 346.5L449.0 340.5L449.5 346.5L450.0 340.5L450.5 349.5L451.0 345.5L451.5 346.5L452.0 340.5L452.5 354.5L453.0 356.5L453.5 365.5L454.0 363.5L454.5 365.5L455.0 355.5L455.5 355.5L456.0 350.5L456.5 357.5L457.0 354.5L457.5 358.5L458.0 354.5L458.5 360.5L459.0 356.5L459.5 359.5L460.0 343.5L460.5 331.5L461.0 317.5L461.5 324.5L462.0 324.5L462.5 334.5L463.0 339.5L463.5 350.5L464.0 349.5L464.5 353.5L465.0 349.5L465.5 353.5L466.0 344.5L466.5 345.5L467.0 345.5L467.5 358.5L468.0 356.5L468.5 366.5L469.0 360.5L469.5 360.5L470.0 354.5L470.5 362.5L471.0 359.5L471.5 364.5L472.0 350.5L472.5 350.5L473.0 346.5L473.5 348.5L474.0 347.5L474.5 363.5L475.0 354.5L475.5 346.5L476.0 319.5L476.5 327.5L477.0 324.5L477.5 351.5L478.0 353.5L478.5 359.5L479.0 355.5L479.5 365.5L480.0 358.5L480.5 360.5L481.0 349.5L481.5 353.5L482.0 348.5L482.5 357.5L483.0 356.5L483.5 361.5L484.0 356.5L484.5 363.5L485.0 356.5L485.5 354.5L486.0 353.5L486.5 365.5L487.0 361.5L487.5 367.5L488.0 364.5L488.5 366.5L489.0 358.5L489.5 356.5L490.0 326.5L490.5 325.5L491.0 321.5L491.5 345.5L492.0 347.5L492.5 356.5L493.0 347.5L493.5 356.5L494.0 352.5L494.5 352.5L495.0 345.5L495.5 349.5L496.0 346.5L496.5 354.5L497.0 346.5L497.5 345.5L498.0 345.5L498.5 353.5L499.0 348.5L499.5 351.5L500.0 347.5L500.5 353.5L501.0 350.5L501.5 357.5L502.0 353.5L502.5 360.5L503.0 350.5L503.5 357.5L504.0 348.5L504.5 354.5L505.0 339.5L505.5 333.5L506.0 317.5L506.5 317.5L507.0 320.5L507.5 336.5L508.0 339.5L508.5 347.5L509.0 346.5L509.5 358.5L510.0 347.5L510.5 349.5L511.0 340.5L511.5 353.5L512.0 350.5L512.5 359.5L513.0 358.5L513.5 364.5L514.0 357.5L514.5 366.5L515.0 362.5L515.5 364.5L516.0 358.5L516.5 364.5L517.0 356.5L517.5 358.5L518.0 349.5L518.5 359.5L519.0 357.5L519.5 358.5L520.0 334.5L520.5 324.5L521.0 321.5L521.5 333.5L522.0 333.5L522.5 351.5L523.0 348.5L523.5 359.5L524.0 358.5L524.5 365.5L525.0 358.5L525.5 366.5L526.0 361.5L526.5 366.5L527.0 357.5L527.5 357.5L528.0 350.5L528.5 353.5L529.0 341.5L529.5 346.5L530.0 341.5L530.5 349.5L531.0 350.5L531.5 362.5L532.0 358.5L532.5 366.5L533.0 360.5L533.5 363.5L534.0 351.5L534.5 342.5L535.0 318.5L535.5 324.5L536.0 326.5L536.5 350.5L537.0 353.5L537.5 358.5L538.0 351.5L538.5 351.5L539.0 342.5L539.5 344.5L540.0 342.5L540.5 346.5L541.0 346.5L541.5 359.5L542.0 361.5L542.5 360.5L543.0 352.5L543.5 355.5L544.0 359.5L544.5 365.5L545.0 352.5L545.5 353.5L546.0 347.5L546.5 357.5L547.0 351.5L547.5 356.5L548.0 344.5L548.5 349.5L549.0 339.5L549.5 333.5L550.0 317.5L550.5 326.5L551.0 333.5L551.5 349.5L552.0 350.5L552.5 344.5L553.0 340.5L553.5 347.5L554.0 353.5L554.5 355.5L555.0 353.5L555.5 357.5L556.0 351.5L556.5 354.5L557.0 347.5L557.5 349.5L558.0 346.5L558.5 349.5L559.0 344.5L559.5 353.5L560.0 353.5L560.5 353.5L561.0 345.5L561.5 353.5L562.0 351.5L562.5 361.5L563.0 362.5L563.5 360.5L564.0 333.5L564.5 322.5L565.0 317.5L565.5 328.5L566.0 341.5L566.5 356.5L567.0 356.5L567.5 355.5L568.0 341.5L568.5 343.5L569.0 349.5L569.5 363.5L570.0 358.5L570.5 353.5L571.0 346.5L571.5 356.5L572.0 350.5L572.5 353.5L573.0 345.5L573.5 351.5L574.0 350.5L574.5 358.5L575.0 356.5L575.5 365.5L576.0 361.5L576.5 365.5L577.0 361.5L577.5 364.5L578.0 350.5L578.5 330.5L579.0 318.5L579.5 325.5L580.0 333.5L580.5 348.5L581.0 343.5L581.5 346.5L582.0 342.5L582.5 355.5L583.0 353.5L583.5 359.5L584.0 353.5L584.5 355.5L585.0 354.5L585.5 353.5L586.0 345.5L586.5 343.5L587.0 341.5L587.5 345.5L588.0 340.5L588.5 346.5L589.0 343.5L589.5 352.5L590.0 348.5L590.5 357.5L591.0 354.5L591.5 363.5L592.0 361.5L592.5 368.5L593.0 344.5L593.5 329.5L594.0 317.5L594.5 322.5L595.0 330.5L595.5 350.5L596.0 361.5L596.5 363.5L597.0 359.5L597.5 364.5L598.0 362.5L598.5 366.5L599.0 353.5L599.5 352.5L600.0 344.5" stroke="#ff0000"/>
<rect x="53.5" y="315.5" width="547" height="69" fill="none"/>
<path d="M48 315.5H53"/>
<path d="M48 332.5H53"/>
<path d="M48 350.5H53"/>
<path d="M48 367.5H53"/>
<path d="M48 384.5H53"/>
<path d="M159.5 385V390"/>
<path d="M268.5 385V390"/>
<path d="M377.5 385V390"/>
<path d="M487.5 385V390"/>
<path d="M596.5 385V390"/>
<path d="M600.5 385V390"/>
<clipPath id="cs"><rect x="54" y="435" width="344" height="148"/></clipPath>
<path d="M73.5 434V589"/>
<path d="M88.5 434V589"/>
<path d="M99.5 434V589"/>
<path d="M108.5 434V589"/>
<path d="M116.5 434V589"/>
<path d="M122.5 434V589"/>
<path d="M128.5 434V589"/>
<path d="M133.5 434V589"/>
<path d="M168.5 434V589"/>
<path d="M188.5 434V589"/>
<path d="M203.5 434V589"/>
<path d="M214.5 434V589"/>
<path d="M223.5 434V589"/>
<path d="M231.5 434V589"/>
<path d="M237.5 434V589"/>
<path d="M243.5 434V589"/>
<path d="M248.5 434V589"/>
<path d="M283.5 434V589"/>
<path d="M303.5 434V589"/>
<path d="M318.5 434V589"/>
<path d="M329.5 434V589"/>
<path d="M338.5 434V589"/>
<path d="M346.5 434V589"/>
<path d="M352.5 434V589"/>
<path d="M358.5 434V589"/>
<path d="M363.5 434V589"/>
<path d="M53 453.5H398" stroke-dasharray="3 3"/>
<path d="M48 453.5H53"/>
<path d="M53 471.5H398" stroke-dasharray="3 3"/>
<path d="M48 471.5H53"/>
<path d="M53 490.5H398" stroke-dasharray="3 3"/>
<path d="M48 490.5H53"/>
<path d="M53 509.5H398" stroke-dasharray="3 3"/>
<path d="M48 509.5H53"/>
<path d="M53 527.5H398" stroke-dasharray="3 3"/>
<path d="M48 527.5H53"/>
<path d="M53 546.5H398" stroke-dasharray="3 3"/>
<path d="M48 546.5H53"/>
<path d="M53 564.5H398" stroke-dasharray="3 3"/>
<path d="M48 564.5H53"/>
<path d="M48 434.5H53"/>
<path d="M48 583.5H53"/>
<g clip-path="url(#cs)">
<path d="M53.5 322.75L398.5 434.50"/>
<path d="M53.5 341.38L398.5 453.12"/>
<path d="M53.5 360.00L398.5 471.75"/>
<path d="M53.5 378.62L398.5 490.38"/>
<path d="M53.5 397.25L398.5 509.00"/>
<path d="M53.5 415.88L398.5 527.62"/>
<path d="M53.5 434.50L398.5 546.25"/>
<path d="M53.5 453.12L398.5 564.88"/>
<path d="M53.5 471.75L398.5 583.50"/>
<path d="M53.5 490.38L398.5 602.12"/>
<path d="M53.5 509.00L398.5 620.75"/>
<path d="M53.5 527.62L398.5 639.38"/>
<path d="M53.5 546.25L398.5 658.00"/>
<path d="M53.5 564.88L398.5 676.62"/>
<path d="M53.5 583.50L398.5 695.25"/>
</g>
<rect x="53.5" y="434.5" width="345" height="149" fill="none"/>
<path d="M53.5 517.0L54.5 513.0L55.5 510.2L56.5 508.5L57.5 506.8L58.5 505.1L59.5 503.4L60.5 501.8L61.5 500.7L62.5 500.0L63.5 499.2L64.5 498.4L65.5 497.8L66.5 497.3L67.5 497.0L68.5 496.6L69.5 496.2L70.5 496.0L71.5 496.1L72.5 496.2L73.5 496.3L74.5 496.6L75.5 496.8L76.5 497.0L77.5 497.1L78.5 497.6L79.5 498.0L80.5 498.4L81.5 498.7L82.5 499.1L83.5 499.7L84.5 499.7L85.5 499.8L86.5 499.6L87.5 499.4L88.5 498.3L89.5 496.4L90.5 493.5L91.5 493.0L92.5 492.0L93.5 491.2L94.5 490.2L95.5 489.2L96.5 487.4L97.5 487.8L98.5 488.6L99.5 487.5L100.5 490.5L101.5 491.1L102.5 490.0L103.5 487.7L104.5 487.0L105.5 488.7L106.5 492.4L107.5 494.6L108.5 493.7L109.5 495.0L110.5 494.3L111.5 494.7L112.5 493.6L113.5 490.0L114.5 485.8L115.5 486.1L116.5 486.7L117.5 481.0L118.5 481.1L119.5 479.9L120.5 483.6L121.5 488.5L122.5 489.1L123.5 477.3L124.5 474.9L125.5 477.7L126.5 492.0L127.5 488.0L128.5 483.4L129.5 486.2L130.5 485.2L131.5 482.3L132.5 482.2L133.5 493.9L134.5 491.8L135.5 475.5L136.5 479.2L137.5 481.8L138.5 475.2L139.5 483.2L140.5 481.5L141.5 476.7L142.5 480.2L143.5 485.3L144.5 490.7L145.5 482.9L146.5 486.4L147.5 487.8L148.5 489.5L149.5 480.7L150.5 469.4L151.5 478.0L152.5 486.7L153.5 490.2L154.5 483.8L155.5 484.4L156.5 492.6L157.5 480.8L158.5 478.7L159.5 475.1L160.5 475.8L161.5 479.5L162.5 488.4L163.5 484.8L164.5 483.0L165.5 480.7L166.5 495.7L167.5 496.8L168.5 488.6L169.5 496.3L170.5 494.7L171.5 496.4L172.5 481.4L173.5 477.7L174.5 483.3L175.5 493.0L176.5 494.8L177.5 491.9L178.5 489.9L179.5 486.6L180.5 497.8L181.5 492.1L182.5 491.5L183.5 489.7L184.5 482.8L185.5 479.6L186.5 479.9L187.5 482.7L188.5 483.4L189.5 472.2L190.5 476.5L191.5 485.9L192.5 498.6L193.5 488.6L194.5 478.5L195.5 472.7L196.5 472.8L197.5 478.1L198.5 475.8L199.5 486.7L200.5 491.0L201.5 484.1L202.5 483.0L203.5 480.2L204.5 477.5L205.5 489.0L206.5 498.9L207.5 485.2L208.5 490.2L209.5 481.2L210.5 474.9L211.5 480.2L212.5 481.8L213.5 487.2L214.5 493.9L215.5 488.9L216.5 481.3L217.5 485.3L218.5 495.8L219.5 498.0L220.5 494.0L221.5 495.6L222.5 498.1L223.5 485.3L224.5 488.3L225.5 496.8L226.5 494.4L227.5 491.5L228.5 496.7L229.5 504.4L230.5 499.0L231.5 480.6L232.5 484.7L233.5 484.9L234.5 478.3L235.5 478.4L236.5 479.0L237.5 482.0L238.5 482.9L239.5 488.3L240.5 503.3L241.5 487.9L242.5 479.9L243.5 478.2L244.5 479.2L245.5 481.8L246.5 491.0L247.5 481.7L248.5 475.4L249.5 477.2L250.5 476.0L251.5 483.0L252.5 486.4L253.5 472.5L254.5 473.7L255.5 471.8L256.5 481.0L257.5 489.2L258.5 486.2L259.5 491.1L260.5 491.1L261.5 489.6L262.5 500.0L263.5 500.0L264.5 491.6L265.5 499.2L266.5 503.8L267.5 505.0L268.5 498.0L269.5 496.6L270.5 491.9L271.5 498.3L272.5 500.5L273.5 508.3L274.5 507.3L275.5 509.2L276.5 507.3L277.5 501.6L278.5 500.6L279.5 500.8L280.5 502.5L281.5 501.6L282.5 500.7L283.5 507.2L284.5 504.9L285.5 502.7L286.5 510.4L287.5 510.3L288.5 506.8L289.5 503.5L290.5 508.2L291.5 517.1L292.5 518.9L293.5 513.4L294.5 503.4L295.5 509.9L296.5 515.6L297.5 516.2L298.5 513.5L299.5 511.5L300.5 504.1L301.5 515.6L302.5 516.1L303.5 506.8L304.5 513.5L305.5 513.7L306.5 510.8L307.5 504.1L308.5 502.6L309.5 502.6L310.5 510.9L311.5 513.5L312.5 517.6L313.5 518.5L314.5 524.4L315.5 523.9L316.5 520.6L317.5 518.0L318.5 516.2L319.5 521.3L320.5 521.8L321.5 514.7L322.5 519.2L323.5 520.6L324.5 517.2L325.5 525.2L326.5 526.5L327.5 526.2L328.5 528.7L329.5 529.1L330.5 534.5L331.5 536.0L332.5 536.7L333.5 534.2L334.5 533.8L335.5 533.9L336.5 536.6L337.5 539.0L338.5 539.0L339.5 533.4L340.5 536.2L341.5 536.0L342.5 537.9L343.5 533.0L344.5 530.8L345.5 531.4L346.5 535.1L347.5 535.7L348.5 535.3L349.5 537.6L350.5 537.1L351.5 534.7L352.5 536.1L353.5 536.2L354.5 535.6L355.5 541.5L356.5 540.2L357.5 535.8L358.5 537.7L359.5 540.8L360.5 545.4L361.5 544.7L362.5 543.2L363.5 537.8L364.5 541.0L365.5 542.4L366.5 541.0L367.5 543.3L368.5 544.4L369.5 542.2L370.5 541.1L371.5 540.0L372.5 543.1L373.5 547.9L374.5 548.8L375.5 544.1L376.5 542.8L377.5 549.0L378.5 555.0L379.5 556.7L380.5 556.2L381.5 554.0L382.5 551.6L383.5 556.5L384.5 565.4L385.5 562.3L386.5 559.9L387.5 559.2L388.5 565.6L389.5 566.2L390.5 563.4L391.5 565.4L392.5 568.3L393.5 573.8L394.5 572.9L395.5 573.2L396.5 576.7L397.5 574.7L398.5 576.6" stroke="#0000ff"/>
<path d="M53.5 517.0L54.5 513.0L55.5 510.2L56.5 508.5L57.5 506.8L58.5 505.1L59.5 503.4L60.5 501.8L61.5 500.7L62.5 500.0L63.5 499.2L64.5 498.4L65.5 497.8L66.5 497.3L67.5 497.0L68.5 496.6L69.5 496.2L70.5 496.0L71.5 496.1L72.5 496.2L73.5 496.3L74.5 496.6L75.5 496.9L76.5 497.0L77.5 497.1L78.5 497.5L79.5 498.0L80.5 498.3L81.5 498.6L82.5 499.1L83.5 499.7L84.5 499.9L85.5 499.8L86.5 499.5L87.5 499.3L88.5 498.4L89.5 496.6L90.5 494.0L91.5 492.9L92.5 491.8L93.5 491.2L94.5 490.1L95.5 489.0L96.5 487.2L97.5 487.8L98.5 488.6L99.5 487.5L100.5 490.5L101.5 491.1L102.5 490.0L103.5 487.7L104.5 487.0L105.5 488.7L106.5 492.4L107.5 494.6L108.5 494.0L109.5 495.7L110.5 495.1L111.5 495.8L112.5 492.5L113.5 488.5L114.5 485.7L115.5 485.1L116.5 486.2L117.5 482.5L118.5 481.7L119.5 481.6L120.5 485.0L121.5 492.7L122.5 491.9L123.5 474.4L124.5 475.4L125.5 476.0L126.5 486.9L127.5 482.9L128.5 481.1L129.5 483.0L130.5 481.6L131.5 480.6L132.5 480.3L133.5 493.5L134.5 491.8L135.5 475.5L136.5 479.2L137.5 481.8L138.5 475.2L139.5 483.2L140.5 481.5L141.5 476.7L142.5 480.2L143.5 485.2L144.5 491.3L145.5 482.8L146.5 484.9L147.5 487.0L148.5 490.0L149.5 485.8L150.5 477.9L151.5 477.4L152.5 478.2L153.5 479.2L154.5 486.5L155.5 488.5L156.5 487.1L157.5 480.7L158.5 482.6L159.5 484.1L160.5 480.9L161.5 478.2L162.5 483.4L163.5 476.8L164.5 482.7L165.5 488.9L166.5 496.0L167.5 497.5L168.5 497.7L169.5 496.5L170.5 492.3L171.5 497.6L172.5 479.7L173.5 473.8L174.5 477.9L175.5 490.9L176.5 493.8L177.5 490.2L178.5 489.8L179.5 486.9L180.5 499.4L181.5 492.9L182.5 492.0L183.5 494.9L184.5 487.9L185.5 482.3L186.5 479.6L187.5 482.9L188.5 483.2L189.5 478.3L190.5 481.3L191.5 487.9L192.5 495.5L193.5 489.1L194.5 479.0L195.5 471.1L196.5 472.3L197.5 477.9L198.5 476.3L199.5 487.3L200.5 490.7L201.5 484.7L202.5 480.3L203.5 478.5L204.5 475.5L205.5 487.8L206.5 495.7L207.5 481.2L208.5 483.3L209.5 475.4L210.5 473.7L211.5 479.4L212.5 481.8L213.5 481.7L214.5 493.7L215.5 493.9L216.5 486.6L217.5 481.5L218.5 488.2L219.5 496.7L220.5 491.0L221.5 496.5L222.5 509.1L223.5 491.1L224.5 490.0L225.5 496.7L226.5 499.3L227.5 495.5L228.5 492.4L229.5 503.0L230.5 498.4L231.5 490.3L232.5 486.3L233.5 482.4L234.5 481.0L235.5 478.2L236.5 476.0L237.5 485.9L238.5 481.8L239.5 483.5L240.5 497.7L241.5 495.0L242.5 490.0L243.5 487.3L244.5 479.8L245.5 477.7L246.5 481.3L247.5 479.7L248.5 479.5L249.5 477.8L250.5 476.9L251.5 483.9L252.5 488.9L253.5 476.6L254.5 474.7L255.5 473.2L256.5 484.5L257.5 488.6L258.5 485.4L259.5 491.5L260.5 492.3L261.5 491.5L262.5 498.0L263.5 499.3L264.5 496.0L265.5 501.0L266.5 501.8L267.5 501.2L268.5 498.1L269.5 498.8L270.5 495.3L271.5 497.4L272.5 500.0L273.5 509.4L274.5 508.3L275.5 509.8L276.5 507.6L277.5 501.5L278.5 500.6L279.5 501.7L280.5 503.0L281.5 502.2L282.5 502.1L283.5 505.4L284.5 504.0L285.5 503.6L286.5 507.6L287.5 508.6L288.5 510.3L289.5 505.6L290.5 508.9L291.5 515.9L292.5 516.3L293.5 511.9L294.5 503.3L295.5 511.4L296.5 518.7L297.5 519.1L298.5 514.6L299.5 512.4L300.5 505.9L301.5 514.8L302.5 515.5L303.5 506.2L304.5 513.6L305.5 513.9L306.5 511.2L307.5 503.9L308.5 501.7L309.5 501.8L310.5 509.1L311.5 512.7L312.5 518.1L313.5 521.9L314.5 527.5L315.5 526.1L316.5 520.4L317.5 517.0L318.5 517.0L319.5 522.1L320.5 522.2L321.5 514.8L322.5 519.2L323.5 520.6L324.5 517.2L325.5 524.6L326.5 526.3L327.5 527.7L328.5 531.2L329.5 530.2L330.5 531.5L331.5 533.5L332.5 533.8L333.5 529.8L334.5 533.8L335.5 532.4L336.5 532.3L337.5 534.7L338.5 537.7L339.5 535.5L340.5 535.5L341.5 533.6L342.5 534.3L343.5 530.9L344.5 530.2L345.5 530.6L346.5 536.2L347.5 537.1L348.5 536.1L349.5 540.4L350.5 539.1L351.5 537.8L352.5 536.8L353.5 536.2L354.5 537.4L355.5 541.0L356.5 539.7L357.5 540.3L358.5 536.7L359.5 538.0L360.5 544.2L361.5 542.6L362.5 540.7L363.5 535.8L364.5 540.0L365.5 541.6L366.5 540.8L367.5 543.5L368.5 544.6L369.5 542.0L370.5 541.7L371.5 540.9L372.5 543.5L373.5 547.9L374.5 547.6L375.5 543.6L376.5 543.8L377.5 547.6L378.5 551.3L379.5 554.1L380.5 555.7L381.5 554.8L382.5 553.6L383.5 556.2L384.5 561.7L385.5 560.4L386.5 558.4L387.5 555.2L388.5 563.2L389.5 564.5L390.5 561.3L391.5 561.4L392.5 563.0L393.5 567.6L394.5 566.4L395.5 566.0L396.5 568.4L397.5 565.2L398.5 565.9" stroke="#ff0000"/>
<path d="M460.5 584V589"/>
<path d="M466.5 584V589"/>
<path d="M471.5 584V589"/>
<path d="M475.5 584V589"/>
<path d="M478.5 584V589"/>
<path d="M481.5 584V589"/>
<path d="M483.5 584V589"/>
<path d="M486.5 584V589"/>
<path d="M501.5 584V589"/>
<path d="M509.5 584V589"/>
<path d="M516.5 584V589"/>
<path d="M520.5 584V589"/>
<path d="M524.5 584V589"/>
<path d="M528.5 584V589"/>
<path d="M531.5 584V589"/>
<path d="M533.5 584V589"/>
<path d="M535.5 584V589"/>
<path d="M550.5 584V589"/>
<path d="M559.5 584V589"/>
<path d="M565.5 584V589"/>
<path d="M570.5 584V589"/>
<path d="M574.5 584V589"/>
<path d="M577.5 584V589"/>
<path d="M580.5 584V589"/>
<path d="M583.5 584V589"/>
<path d="M585.5 584V589"/>
<path d="M600.5 583V589"/>
<path d="M446 583.5H451"/>
<path d="M446 558.5H451"/>
<path d="M446 533.5H451"/>
<path d="M446 509.5H451"/>
<path d="M446 484.5H451"/>
<path d="M446 459.5H451"/>
<path d="M446 434.5H451"/>
<path d="M451 499.5H600" stroke="#0000ff" stroke-dasharray="3 3"/>
<path d="M451 501.5H600" stroke="#ff0000" stroke-dasharray="3 3"/>
<path d="M451.5 496.6L500.0 493.9L552.0 498.4L600.0 499.4" stroke="#0000ff"/>
<path d="M451.5 497.7L480.0 494.0L501.7 489.3L520.0 494.5L541.5 499.7L600.0 500.8" stroke="#ff0000"/>
<rect x="451.5" y="434.5" width="149" height="149" fill="none"/>
<path d="M48 780.5H53"/>
<path d="M48 770.5H53"/>
<path d="M48 765.5H53"/>
<path d="M48 761.5H53"/>
<path d="M48 758.5H53"/>
<path d="M48 755.5H53"/>
<path d="M48 753.5H53"/>
<path d="M48 751.5H53"/>
<path d="M48 750.5H53"/>
<path d="M48 748.5H53"/>
<path d="M48 739.5H53"/>
<path d="M48 733.5H53"/>
<path d="M48 729.5H53"/>
<path d="M48 726.5H53"/>
<path d="M48 724.5H53"/>
<path d="M48 722.5H53"/>
<path d="M48 720.5H53"/>
<path d="M48 718.5H53"/>
<path d="M48 717.5H53"/>
<path d="M48 707.5H53"/>
<path d="M48 702.5H53"/>
<path d="M48 698.5H53"/>
<path d="M48 695.5H53"/>
<path d="M48 692.5H53"/>
<path d="M48 690.5H53"/>
<path d="M48 688.5H53"/>
<path d="M48 687.5H53"/>
<path d="M48 685.5H53"/>
<path d="M48 676.5H53"/>
<path d="M48 670.5H53"/>
<path d="M48 667.5H53"/>
<path d="M48 664.5H53"/>
<path d="M48 661.5H53"/>
<path d="M48 659.5H53"/>
<path d="M48 657.5H53"/>
<path d="M48 656.5H53"/>
<path d="M48 654.5H53"/>
<path d="M48 645.5H53"/>
<path d="M48 639.5H53"/>
<path d="M48 635.5H53"/>
<path d="M48 633.5H53"/>
<path d="M48 782.5H53"/>
<path d="M69.5 783V788"/>
<path d="M100.5 783V788"/>
<path d="M132.5 783V788"/>
<path d="M163.5 783V788"/>
<path d="M194.5 783V788"/>
<path d="M226.5 783V788"/>
<path d="M257.5 783V788"/>
<path d="M288.5 783V788"/>
<path d="M319.5 783V788"/>
<path d="M351.5 783V788"/>
<path d="M382.5 783V788"/>
<rect x="53.5" y="633.5" width="345" height="149" fill="none"/>
<path d="M398.5 782V788"/>
<path d="M53.5 782.5L94.5 782.5L94.5 777.5L95.5 777.5L95.5 777.5L96.5 777.5L96.5 777.5L97.5 777.5L97.5 777.5L98.5 777.5L98.5 777.5L99.5 777.5L99.5 777.5L100.5 777.5L100.5 768.5L101.5 768.5L101.5 777.5L102.5 777.5L102.5 768.5L103.5 768.5L103.5 777.5L104.5 777.5L104.5 768.5L105.5 768.5L105.5 768.5L106.5 768.5L106.5 777.5L107.5 777.5L107.5 768.5L108.5 768.5L108.5 768.5L109.5 768.5L109.5 768.5L110.5 768.5L110.5 777.5L111.5 777.5L111.5 777.5L112.5 777.5L112.5 777.5L113.5 777.5L113.5 768.5L114.5 768.5L114.5 763.5L115.5 763.5L115.5 768.5L116.5 768.5L116.5 763.5L117.5 763.5L117.5 768.5L118.5 768.5L118.5 763.5L119.5 763.5L119.5 763.5L120.5 763.5L120.5 763.5L121.5 763.5L121.5 756.5L122.5 756.5L122.5 759.5L123.5 759.5L123.5 756.5L124.5 756.5L124.5 763.5L125.5 763.5L125.5 759.5L126.5 759.5L126.5 759.5L127.5 759.5L127.5 756.5L128.5 756.5L128.5 754.5L129.5 754.5L129.5 754.5L130.5 754.5L130.5 756.5L131.5 756.5L131.5 756.5L132.5 756.5L132.5 754.5L133.5 754.5L133.5 750.5L134.5 750.5L134.5 754.5L135.5 754.5L135.5 750.5L136.5 750.5L136.5 748.5L137.5 748.5L137.5 754.5L138.5 754.5L138.5 748.5L139.5 748.5L139.5 746.5L140.5 746.5L140.5 752.5L141.5 752.5L141.5 747.5L142.5 747.5L142.5 746.5L143.5 746.5L143.5 747.5L144.5 747.5L144.5 743.5L145.5 743.5L145.5 743.5L146.5 743.5L146.5 746.5L147.5 746.5L147.5 741.5L148.5 741.5L148.5 740.5L149.5 740.5L149.5 739.5L150.5 739.5L150.5 737.5L151.5 737.5L151.5 739.5L152.5 739.5L152.5 738.5L153.5 738.5L153.5 739.5L154.5 739.5L154.5 735.5L155.5 735.5L155.5 737.5L156.5 737.5L156.5 735.5L157.5 735.5L157.5 734.5L158.5 734.5L158.5 733.5L159.5 733.5L159.5 733.5L160.5 733.5L160.5 732.5L161.5 732.5L161.5 731.5L162.5 731.5L162.5 730.5L163.5 730.5L163.5 730.5L164.5 730.5L164.5 730.5L165.5 730.5L165.5 729.5L166.5 729.5L166.5 727.5L167.5 727.5L167.5 726.5L168.5 726.5L168.5 726.5L169.5 726.5L169.5 725.5L170.5 725.5L170.5 725.5L171.5 725.5L171.5 724.5L172.5 724.5L172.5 724.5L173.5 724.5L173.5 723.5L174.5 723.5L174.5 722.5L175.5 722.5L175.5 721.5L176.5 721.5L176.5 721.5L177.5 721.5L177.5 720.5L178.5 720.5L178.5 719.5L179.5 719.5L179.5 719.5L180.5 719.5L180.5 717.5L181.5 717.5L181.5 717.5L182.5 717.5L182.5 717.5L183.5 717.5L183.5 716.5L184.5 716.5L184.5 714.5L185.5 714.5L185.5 714.5L186.5 714.5L186.5 714.5L187.5 714.5L187.5 712.5L188.5 712.5L188.5 712.5L189.5 712.5L189.5 712.5L190.5 712.5L190.5 710.5L191.5 710.5L191.5 710.5L192.5 710.5L192.5 709.5L193.5 709.5L193.5 708.5L194.5 708.5L194.5 708.5L195.5 708.5L195.5 707.5L196.5 707.5L196.5 706.5L197.5 706.5L197.5 706.5L198.5 706.5L198.5 704.5L199.5 704.5L199.5 704.5L200.5 704.5L200.5 703.5L201.5 703.5L201.5 702.5L202.5 702.5L202.5 701.5L203.5 701.5L203.5 701.5L204.5 701.5L204.5 700.5L205.5 700.5L205.5 699.5L206.5 699.5L206.5 698.5L207.5 698.5L207.5 697.5L208.5 697.5L208.5 696.5L209.5 696.5L209.5 695.5L210.5 695.5L210.5 695.5L211.5 695.5L211.5 694.5L212.5 694.5L212.5 693.5L213.5 693.5L213.5 692.5L214.5 692.5L214.5 691.5L215.5 691.5L215.5 690.5L216.5 690.5L216.5 689.5L217.5 689.5L217.5 688.5L218.5 688.5L218.5 687.5L219.5 687.5L219.5 686.5L220.5 686.5L220.5 685.5L221.5 685.5L221.5 684.5L222.5 684.5L222.5 681.5L223.5 681.5L223.5 678.5L224.5 678.5L224.5 675.5L225.5 675.5L225.5 672.5L226.5 672.5L226.5 670.5L227.5 670.5L227.5 670.5L228.5 670.5L228.5 675.5L229.5 675.5L229.5 681.5L230.5 681.5L230.5 683.5L231.5 683.5L231.5 684.5L232.5 684.5L232.5 686.5L233.5 686.5L233.5 687.5L234.5 687.5L234.5 688.5L235.5 688.5L235.5 689.5L236.5 689.5L236.5 691.5L237.5 691.5L237.5 691.5L238.5 691.5L238.5 693.5L239.5 693.5L239.5 694.5L240.5 694.5L240.5 695.5L241.5 695.5L241.5 696.5L242.5 696.5L242.5 696.5L243.5 696.5L243.5 697.5L244.5 697.5L244.5 698.5L245.5 698.5L245.5 699.5L246.5 699.5L246.5 700.5L247.5 700.5L247.5 700.5L248.5 700.5L248.5 701.5L249.5 701.5L249.5 702.5L250.5 702.5L250.5 702.5L251.5 702.5L251.5 703.5L252.5 703.5L252.5 703.5L253.5 703.5L253.5 704.5L254.5 704.5L254.5 706.5L255.5 706.5L255.5 706.5L256.5 706.5L256.5 707.5L257.5 707.5L257.5 708.5L258.5 708.5L258.5 709.5L259.5 709.5L259.5 710.5L260.5 710.5L260.5 709.5L261.5 709.5L261.5 710.5L262.5 710.5L262.5 711.5L263.5 711.5L263.5 712.5L264.5 712.5L264.5 713.5L265.5 713.5L265.5 713.5L266.5 713.5L266.5 715.5L267.5 715.5L267.5 715.5L268.5 715.5L268.5 716.5L269.5 716.5L269.5 716.5L270.5 716.5L270.5 717.5L271.5 717.5L271.5 718.5L272.5 718.5L272.5 719.5L273.5 719.5L273.5 720.5L274.5 720.5L274.5 721.5L275.5 721.5L275.5 721.5L276.5 721.5L276.5 722.5L277.5 722.5L277.5 723.5L278.5 723.5L278.5 724.5L279.5 724.5L279.5 724.5L280.5 724.5L280.5 726.5L281.5 726.5L281.5 725.5L282.5 725.5L282.5 727.5L283.5 727.5L283.5 727.5L284.5 727.5L284.5 728.5L285.5 728.5L285.5 729.5L286.5 729.5L286.5 730.5L287.5 730.5L287.5 730.5L288.5 730.5L288.5 731.5L289.5 731.5L289.5 731.5L290.5 731.5L290.5 733.5L291.5 733.5L291.5 733.5L292.5 733.5L292.5 734.5L293.5 734.5L293.5 734.5L294.5 734.5L294.5 734.5L295.5 734.5L295.5 735.5L296.5 735.5L296.5 735.5L297.5 735.5L297.5 739.5L298.5 739.5L298.5 739.5L299.5 739.5L299.5 742.5L300.5 742.5L300.5 739.5L301.5 739.5L301.5 739.5L302.5 739.5L302.5 743.5L303.5 743.5L303.5 741.5L304.5 741.5L304.5 743.5L305.5 743.5L305.5 745.5L306.5 745.5L306.5 750.5L307.5 750.5L307.5 743.5L308.5 743.5L308.5 747.5L309.5 747.5L309.5 750.5L310.5 750.5L310.5 748.5L311.5 748.5L311.5 748.5L312.5 748.5L312.5 747.5L313.5 747.5L313.5 754.5L314.5 754.5L314.5 750.5L315.5 750.5L315.5 750.5L316.5 750.5L316.5 750.5L317.5 750.5L317.5 756.5L318.5 756.5L318.5 759.5L319.5 759.5L319.5 754.5L320.5 754.5L320.5 756.5L321.5 756.5L321.5 759.5L322.5 759.5L322.5 754.5L323.5 754.5L323.5 759.5L324.5 759.5L324.5 768.5L325.5 768.5L325.5 763.5L326.5 763.5L326.5 768.5L327.5 768.5L327.5 759.5L328.5 759.5L328.5 763.5L329.5 763.5L329.5 768.5L330.5 768.5L330.5 763.5L331.5 763.5L331.5 763.5L332.5 763.5L332.5 763.5L333.5 763.5L333.5 763.5L334.5 763.5L334.5 768.5L335.5 768.5L335.5 763.5L336.5 763.5L336.5 763.5L337.5 763.5L337.5 763.5L338.5 763.5L338.5 777.5L339.5 777.5L339.5 768.5L340.5 768.5L340.5 777.5L341.5 777.5L341.5 777.5L342.5 777.5L342.5 777.5L343.5 777.5L343.5 768.5L344.5 768.5L344.5 777.5L345.5 777.5L345.5 777.5L346.5 777.5L346.5 777.5L347.5 777.5L347.5 777.5L348.5 777.5L348.5 777.5L349.5 777.5L349.5 777.5L350.5 777.5L350.5 768.5L351.5 768.5L351.5 777.5L352.5 777.5L352.5 777.5L353.5 777.5L353.5 777.5L354.5 777.5L354.5 777.5L355.5 777.5L355.5 777.5L356.5 777.5L356.5 777.5L357.5 777.5L357.5 777.5L358.5 777.5L358.5 777.5L359.5 777.5L359.5 777.5L360.5 777.5L360.5 782.5L398.5 782.5" stroke="#0000ff"/>
<path d="M53.5 782.5L92.5 782.5L92.5 777.5L93.5 777.5L93.5 768.5L94.5 768.5L94.5 777.5L95.5 777.5L95.5 768.5L96.5 768.5L96.5 777.5L97.5 777.5L97.5 777.5L98.5 777.5L98.5 768.5L99.5 768.5L99.5 777.5L100.5 777.5L100.5 777.5L101.5 777.5L101.5 777.5L102.5 777.5L102.5 777.5L103.5 777.5L103.5 768.5L104.5 768.5L104.5 768.5L105.5 768.5L105.5 763.5L106.5 763.5L106.5 768.5L107.5 768.5L107.5 768.5L108.5 768.5L108.5 763.5L109.5 763.5L109.5 768.5L110.5 768.5L110.5 777.5L111.5 777.5L111.5 763.5L112.5 763.5L112.5 768.5L113.5 768.5L113.5 763.5L114.5 763.5L114.5 763.5L115.5 763.5L115.5 754.5L116.5 754.5L116.5 759.5L117.5 759.5L117.5 759.5L118.5 759.5L118.5 763.5L119.5 763.5L119.5 756.5L120.5 756.5L120.5 763.5L121.5 763.5L121.5 756.5L122.5 756.5L122.5 763.5L123.5 763.5L123.5 756.5L124.5 756.5L124.5 754.5L125.5 754.5L125.5 759.5L126.5 759.5L126.5 754.5L127.5 754.5L127.5 754.5L128.5 754.5L128.5 752.5L129.5 752.5L129.5 754.5L130.5 754.5L130.5 750.5L131.5 750.5L131.5 747.5L132.5 747.5L132.5 754.5L133.5 754.5L133.5 752.5L134.5 752.5L134.5 748.5L135.5 748.5L135.5 750.5L136.5 750.5L136.5 750.5L137.5 750.5L137.5 743.5L138.5 743.5L138.5 743.5L139.5 743.5L139.5 743.5L140.5 743.5L140.5 743.5L141.5 743.5L141.5 743.5L142.5 743.5L142.5 745.5L143.5 745.5L143.5 747.5L144.5 747.5L144.5 741.5L145.5 741.5L145.5 743.5L146.5 743.5L146.5 740.5L147.5 740.5L147.5 739.5L148.5 739.5L148.5 741.5L149.5 741.5L149.5 738.5L150.5 738.5L150.5 734.5L151.5 734.5L151.5 735.5L152.5 735.5L152.5 738.5L153.5 738.5L153.5 735.5L154.5 735.5L154.5 734.5L155.5 734.5L155.5 734.5L156.5 734.5L156.5 733.5L157.5 733.5L157.5 732.5L158.5 732.5L158.5 731.5L159.5 731.5L159.5 731.5L160.5 731.5L160.5 729.5L161.5 729.5L161.5 729.5L162.5 729.5L162.5 728.5L163.5 728.5L163.5 727.5L164.5 727.5L164.5 727.5L165.5 727.5L165.5 726.5L166.5 726.5L166.5 725.5L167.5 725.5L167.5 724.5L168.5 724.5L168.5 724.5L169.5 724.5L169.5 724.5L170.5 724.5L170.5 723.5L171.5 723.5L171.5 722.5L172.5 722.5L172.5 721.5L173.5 721.5L173.5 720.5L174.5 720.5L174.5 720.5L175.5 720.5L175.5 720.5L176.5 720.5L176.5 719.5L177.5 719.5L177.5 718.5L178.5 718.5L178.5 717.5L179.5 717.5L179.5 717.5L180.5 717.5L180.5 716.5L181.5 716.5L181.5 715.5L182.5 715.5L182.5 715.5L183.5 715.5L183.5 714.5L184.5 714.5L184.5 713.5L185.5 713.5L185.5 713.5L186.5 713.5L186.5 711.5L187.5 711.5L187.5 711.5L188.5 711.5L188.5 710.5L189.5 710.5L189.5 710.5L190.5 710.5L190.5 709.5L191.5 709.5L191.5 708.5L192.5 708.5L192.5 708.5L193.5 708.5L193.5 707.5L194.5 707.5L194.5 706.5L195.5 706.5L195.5 706.5L196.5 706.5L196.5 705.5L197.5 705.5L197.5 704.5L198.5 704.5L198.5 704.5L199.5 704.5L199.5 703.5L200.5 703.5L200.5 703.5L201.5 703.5L201.5 701.5L202.5 701.5L202.5 701.5L203.5 701.5L203.5 700.5L204.5 700.5L204.5 700.5L205.5 700.5L205.5 698.5L206.5 698.5L206.5 698.5L207.5 698.5L207.5 697.5L208.5 697.5L208.5 696.5L209.5 696.5L209.5 696.5L210.5 696.5L210.5 694.5L211.5 694.5L211.5 694.5L212.5 694.5L212.5 692.5L213.5 692.5L213.5 692.5L214.5 692.5L214.5 691.5L215.5 691.5L215.5 690.5L216.5 690.5L216.5 689.5L217.5 689.5L217.5 688.5L218.5 688.5L218.5 687.5L219.5 687.5L219.5 686.5L220.5 686.5L220.5 685.5L221.5 685.5L221.5 684.5L222.5 684.5L222.5 681.5L223.5 681.5L223.5 678.5L224.5 678.5L224.5 676.5L225.5 676.5L225.5 673.5L226.5 673.5L226.5 671.5L227.5 671.5L227.5 671.5L228.5 671.5L228.5 674.5L229.5 674.5L229.5 681.5L230.5 681.5L230.5 683.5L231.5 683.5L231.5 684.5L232.5 684.5L232.5 686.5L233.5 686.5L233.5 687.5L234.5 687.5L234.5 688.5L235.5 688.5L235.5 689.5L236.5 689.5L236.5 691.5L237.5 691.5L237.5 692.5L238.5 692.5L238.5 693.5L239.5 693.5L239.5 693.5L240.5 693.5L240.5 694.5L241.5 694.5L241.5 695.5L242.5 695.5L242.5 696.5L243.5 696.5L243.5 697.5L244.5 697.5L244.5 697.5L245.5 697.5L245.5 698.5L246.5 698.5L246.5 699.5L247.5 699.5L247.5 700.5L248.5 700.5L248.5 701.5L249.5 701.5L249.5 701.5L250.5 701.5L250.5 702.5L251.5 702.5L251.5 702.5L252.5 702.5L252.5 703.5L253.5 703.5L253.5 704.5L254.5 704.5L254.5 704.5L255.5 704.5L255.5 705.5L256.5 705.5L256.5 705.5L257.5 705.5L257.5 707.5L258.5 707.5L258.5 708.5L259.5 708.5L259.5 708.5L260.5 708.5L260.5 708.5L261.5 708.5L261.5 709.5L262.5 709.5L262.5 710.5L263.5 710.5L263.5 711.5L264.5 711.5L264.5 712.5L265.5 712.5L265.5 712.5L266.5 712.5L266.5 712.5L267.5 712.5L267.5 714.5L268.5 714.5L268.5 715.5L269.5 715.5L269.5 715.5L270.5 715.5L270.5 716.5L271.5 716.5L271.5 717.5L272.5 717.5L272.5 717.5L273.5 717.5L273.5 718.5L274.5 718.5L274.5 719.5L275.5 719.5L275.5 719.5L276.5 719.5L276.5 720.5L277.5 720.5L277.5 720.5L278.5 720.5L278.5 721.5L279.5 721.5L279.5 722.5L280.5 722.5L280.5 722.5L281.5 722.5L281.5 724.5L282.5 724.5L282.5 724.5L283.5 724.5L283.5 725.5L284.5 725.5L284.5 726.5L285.5 726.5L285.5 727.5L286.5 727.5L286.5 727.5L287.5 727.5L287.5 728.5L288.5 728.5L288.5 729.5L289.5 729.5L289.5 730.5L290.5 730.5L290.5 730.5L291.5 730.5L291.5 731.5L292.5 731.5L292.5 732.5L293.5 732.5L293.5 732.5L294.5 732.5L294.5 733.5L295.5 733.5L295.5 734.5L296.5 734.5L296.5 734.5L297.5 734.5L297.5 734.5L298.5 734.5L298.5 733.5L299.5 733.5L299.5 737.5L300.5 737.5L300.5 737.5L301.5 737.5L301.5 739.5L302.5 739.5L302.5 738.5L303.5 738.5L303.5 742.5L304.5 742.5L304.5 740.5L305.5 740.5L305.5 743.5L306.5 743.5L306.5 742.5L307.5 742.5L307.5 747.5L308.5 747.5L308.5 746.5L309.5 746.5L309.5 743.5L310.5 743.5L310.5 745.5L311.5 745.5L311.5 756.5L312.5 756.5L312.5 745.5L313.5 745.5L313.5 750.5L314.5 750.5L314.5 747.5L315.5 747.5L315.5 747.5L316.5 747.5L316.5 752.5L317.5 752.5L317.5 752.5L318.5 752.5L318.5 759.5L319.5 759.5L319.5 752.5L320.5 752.5L320.5 750.5L321.5 750.5L321.5 759.5L322.5 759.5L322.5 752.5L323.5 752.5L323.5 754.5L324.5 754.5L324.5 754.5L325.5 754.5L325.5 759.5L326.5 759.5L326.5 756.5L327.5 756.5L327.5 756.5L328.5 756.5L328.5 754.5L329.5 754.5L329.5 763.5L330.5 763.5L330.5 763.5L331.5 763.5L331.5 763.5L332.5 763.5L332.5 759.5L333.5 759.5L333.5 768.5L334.5 768.5L334.5 763.5L335.5 763.5L335.5 768.5L336.5 768.5L336.5 763.5L337.5 763.5L337.5 763.5L338.5 763.5L338.5 768.5L339.5 768.5L339.5 763.5L340.5 763.5L340.5 768.5L341.5 768.5L341.5 768.5L342.5 768.5L342.5 768.5L343.5 768.5L343.5 777.5L344.5 777.5L344.5 768.5L345.5 768.5L345.5 768.5L346.5 768.5L346.5 777.5L347.5 777.5L347.5 768.5L348.5 768.5L348.5 777.5L349.5 777.5L349.5 777.5L350.5 777.5L350.5 777.5L351.5 777.5L351.5 777.5L352.5 777.5L352.5 777.5L353.5 777.5L353.5 768.5L354.5 768.5L354.5 777.5L355.5 777.5L355.5 777.5L356.5 777.5L356.5 777.5L357.5 777.5L357.5 777.5L358.5 777.5L358.5 777.5L359.5 777.5L359.5 777.5L360.5 777.5L360.5 777.5L361.5 777.5L361.5 768.5L362.5 768.5L362.5 777.5L363.5 777.5L363.5 777.5L364.5 777.5L364.5 777.5L365.5 777.5L365.5 777.5L366.5 777.5L366.5 782.5L398.5 782.5" stroke="#ff0000"/>
<path d="M226.5 635V674M227.5 635V674" stroke="#ff0000"/>
<clipPath id="cp"><rect x="452" y="634" width="148" height="148"/></clipPath>
<path d="M446 782.5H451"/>
<path d="M451.5 783V788"/>
<path d="M446 753.5H451"/>
<path d="M480.5 783V788"/>
<path d="M446 723.5H451"/>
<path d="M510.5 783V788"/>
<path d="M446 694.5H451"/>
<path d="M539.5 783V788"/>
<path d="M446 664.5H451"/>
<path d="M569.5 783V788"/>
<path d="M446 635.5H451"/>
<path d="M598.5 783V788"/>
<path d="M446 633.5H451"/>
<path d="M600.5 782V788"/>
<g clip-path="url(#cp)" shape-rendering="geometricPrecision">
<path d="M451.5 782.5L628.1 605.9"/>
<path d="M451.5 753.1L628.1 576.4"/>
<path d="M451.5 723.6L628.1 547.0"/>
<path d="M451.5 694.2L628.1 517.5"/>
<path d="M451.5 664.7L628.1 488.1"/>
<path d="M451.5 635.3L628.1 458.7"/>
</g>
<rect x="451.5" y="633.5" width="149" height="149" fill="none"/>
<defs><path id="m" d="M-.5-2.5h1l2 2v1l-2 2h-1l-2-2v-1z"/></defs>
<g fill="#fff">
<g clip-path="url(#cp)">
<g stroke="#0000ff"><use href="#m" x="459" y="714"/><use href="#m" x="449" y="715"/><use href="#m" x="453" y="712"/><use href="#m" x="460" y="720"/><use href="#m" x="486" y="697"/><use href="#m" x="480" y="708"/><use href="#m" x="488" y="700"/><use href="#m" x="473" y="707"/><use href="#m" x="473" y="711"/><use href="#m" x="475" y="707"/><use href="#m" x="493" y="702"/><use href="#m" x="508" y="690"/><use href="#m" x="516" y="687"/><use href="#m" x="509" y="690"/><use href="#m" x="512" y="687"/><use href="#m" x="511" y="681"/><use href="#m" x="492" y="696"/><use href="#m" x="520" y="688"/><use href="#m" x="518" y="683"/><use href="#m" x="518" y="687"/><use href="#m" x="525" y="678"/><use href="#m" x="508" y="692"/><use href="#m" x="507" y="686"/><use href="#m" x="518" y="676"/><use href="#m" x="521" y="678"/><use href="#m" x="534" y="675"/><use href="#m" x="533" y="673"/><use href="#m" x="514" y="687"/><use href="#m" x="522" y="680"/><use href="#m" x="528" y="674"/><use href="#m" x="528" y="666"/><use href="#m" x="520" y="677"/><use href="#m" x="510" y="681"/><use href="#m" x="530" y="675"/><use href="#m" x="516" y="679"/><use href="#m" x="526" y="672"/><use href="#m" x="538" y="661"/><use href="#m" x="531" y="675"/><use href="#m" x="524" y="671"/><use href="#m" x="529" y="668"/><use href="#m" x="513" y="688"/><use href="#m" x="533" y="671"/><use href="#m" x="531" y="672"/><use href="#m" x="545" y="661"/><use href="#m" x="539" y="666"/><use href="#m" x="525" y="682"/><use href="#m" x="524" y="678"/><use href="#m" x="532" y="675"/><use href="#m" x="511" y="691"/><use href="#m" x="530" y="670"/><use href="#m" x="511" y="683"/><use href="#m" x="534" y="666"/><use href="#m" x="538" y="664"/><use href="#m" x="550" y="658"/><use href="#m" x="539" y="661"/><use href="#m" x="557" y="648"/><use href="#m" x="548" y="653"/><use href="#m" x="543" y="663"/><use href="#m" x="537" y="668"/><use href="#m" x="539" y="664"/><use href="#m" x="547" y="658"/><use href="#m" x="541" y="660"/><use href="#m" x="542" y="657"/><use href="#m" x="534" y="660"/><use href="#m" x="541" y="658"/><use href="#m" x="527" y="670"/><use href="#m" x="533" y="655"/><use href="#m" x="537" y="662"/><use href="#m" x="529" y="656"/><use href="#m" x="551" y="655"/><use href="#m" x="546" y="661"/><use href="#m" x="510" y="686"/><use href="#m" x="538" y="669"/><use href="#m" x="542" y="661"/><use href="#m" x="542" y="657"/><use href="#m" x="548" y="653"/><use href="#m" x="542" y="656"/><use href="#m" x="529" y="665"/><use href="#m" x="528" y="666"/><use href="#m" x="531" y="666"/><use href="#m" x="532" y="667"/><use href="#m" x="542" y="662"/><use href="#m" x="542" y="653"/><use href="#m" x="534" y="670"/><use href="#m" x="530" y="673"/><use href="#m" x="542" y="662"/><use href="#m" x="540" y="655"/><use href="#m" x="539" y="661"/><use href="#m" x="548" y="656"/><use href="#m" x="548" y="654"/><use href="#m" x="517" y="681"/><use href="#m" x="545" y="658"/><use href="#m" x="539" y="657"/><use href="#m" x="525" y="668"/><use href="#m" x="535" y="659"/><use href="#m" x="526" y="666"/><use href="#m" x="545" y="657"/><use href="#m" x="553" y="657"/><use href="#m" x="544" y="663"/><use href="#m" x="544" y="660"/><use href="#m" x="541" y="663"/><use href="#m" x="538" y="661"/><use href="#m" x="556" y="648"/><use href="#m" x="561" y="641"/><use href="#m" x="555" y="649"/><use href="#m" x="561" y="640"/><use href="#m" x="557" y="649"/><use href="#m" x="543" y="661"/><use href="#m" x="533" y="661"/><use href="#m" x="552" y="651"/><use href="#m" x="556" y="645"/><use href="#m" x="547" y="659"/><use href="#m" x="550" y="648"/><use href="#m" x="550" y="650"/><use href="#m" x="557" y="648"/><use href="#m" x="561" y="644"/><use href="#m" x="564" y="643"/><use href="#m" x="553" y="645"/><use href="#m" x="548" y="659"/><use href="#m" x="538" y="661"/><use href="#m" x="536" y="654"/><use href="#m" x="546" y="653"/><use href="#m" x="561" y="643"/><use href="#m" x="555" y="646"/><use href="#m" x="553" y="648"/><use href="#m" x="548" y="653"/><use href="#m" x="543" y="655"/><use href="#m" x="549" y="659"/><use href="#m" x="553" y="649"/><use href="#m" x="550" y="656"/><use href="#m" x="543" y="654"/><use href="#m" x="529" y="668"/><use href="#m" x="538" y="665"/><use href="#m" x="550" y="651"/><use href="#m" x="550" y="651"/><use href="#m" x="554" y="646"/><use href="#m" x="542" y="653"/><use href="#m" x="557" y="649"/><use href="#m" x="553" y="648"/><use href="#m" x="549" y="648"/><use href="#m" x="553" y="649"/><use href="#m" x="550" y="650"/><use href="#m" x="555" y="644"/><use href="#m" x="554" y="646"/><use href="#m" x="562" y="643"/><use href="#m" x="554" y="645"/><use href="#m" x="553" y="651"/><use href="#m" x="553" y="647"/><use href="#m" x="561" y="643"/><use href="#m" x="555" y="650"/><use href="#m" x="555" y="648"/><use href="#m" x="560" y="644"/><use href="#m" x="560" y="645"/><use href="#m" x="555" y="646"/><use href="#m" x="555" y="653"/><use href="#m" x="546" y="657"/><use href="#m" x="554" y="644"/><use href="#m" x="555" y="648"/><use href="#m" x="550" y="652"/><use href="#m" x="547" y="658"/><use href="#m" x="544" y="652"/><use href="#m" x="544" y="658"/><use href="#m" x="545" y="653"/><use href="#m" x="547" y="660"/><use href="#m" x="545" y="654"/><use href="#m" x="537" y="657"/><use href="#m" x="545" y="653"/><use href="#m" x="541" y="657"/><use href="#m" x="538" y="661"/><use href="#m" x="507" y="689"/><use href="#m" x="496" y="697"/><use href="#m" x="502" y="689"/><use href="#m" x="507" y="686"/><use href="#m" x="506" y="689"/><use href="#m" x="495" y="698"/><use href="#m" x="521" y="683"/><use href="#m" x="518" y="679"/><use href="#m" x="509" y="687"/><use href="#m" x="509" y="694"/><use href="#m" x="508" y="689"/><use href="#m" x="515" y="689"/><use href="#m" x="499" y="684"/><use href="#m" x="511" y="681"/><use href="#m" x="516" y="681"/><use href="#m" x="512" y="684"/><use href="#m" x="497" y="698"/><use href="#m" x="462" y="730"/><use href="#m" x="463" y="726"/><use href="#m" x="502" y="691"/><use href="#m" x="504" y="693"/><use href="#m" x="492" y="697"/><use href="#m" x="491" y="695"/><use href="#m" x="501" y="696"/><use href="#m" x="501" y="694"/><use href="#m" x="517" y="688"/><use href="#m" x="522" y="693"/><use href="#m" x="503" y="702"/><use href="#m" x="511" y="687"/><use href="#m" x="488" y="703"/><use href="#m" x="462" y="721"/></g>
<g stroke="#ff0000"><use href="#m" x="456" y="715"/><use href="#m" x="446" y="726"/><use href="#m" x="455" y="718"/><use href="#m" x="468" y="719"/><use href="#m" x="497" y="704"/><use href="#m" x="496" y="695"/><use href="#m" x="501" y="692"/><use href="#m" x="484" y="701"/><use href="#m" x="464" y="713"/><use href="#m" x="485" y="695"/><use href="#m" x="521" y="686"/><use href="#m" x="513" y="684"/><use href="#m" x="512" y="693"/><use href="#m" x="512" y="690"/><use href="#m" x="507" y="688"/><use href="#m" x="505" y="688"/><use href="#m" x="507" y="683"/><use href="#m" x="513" y="682"/><use href="#m" x="509" y="688"/><use href="#m" x="512" y="693"/><use href="#m" x="521" y="683"/><use href="#m" x="517" y="683"/><use href="#m" x="515" y="682"/><use href="#m" x="514" y="677"/><use href="#m" x="518" y="673"/><use href="#m" x="527" y="673"/><use href="#m" x="534" y="667"/><use href="#m" x="520" y="675"/><use href="#m" x="525" y="675"/><use href="#m" x="513" y="689"/><use href="#m" x="531" y="666"/><use href="#m" x="533" y="669"/><use href="#m" x="539" y="660"/><use href="#m" x="536" y="666"/><use href="#m" x="534" y="670"/><use href="#m" x="534" y="659"/><use href="#m" x="536" y="663"/><use href="#m" x="530" y="671"/><use href="#m" x="520" y="671"/><use href="#m" x="523" y="674"/><use href="#m" x="540" y="665"/><use href="#m" x="540" y="663"/><use href="#m" x="536" y="662"/><use href="#m" x="547" y="665"/><use href="#m" x="549" y="658"/><use href="#m" x="535" y="667"/><use href="#m" x="535" y="668"/><use href="#m" x="534" y="671"/><use href="#m" x="535" y="669"/><use href="#m" x="534" y="670"/><use href="#m" x="534" y="664"/><use href="#m" x="524" y="664"/><use href="#m" x="535" y="667"/><use href="#m" x="540" y="663"/><use href="#m" x="539" y="655"/><use href="#m" x="557" y="649"/><use href="#m" x="554" y="654"/><use href="#m" x="549" y="661"/><use href="#m" x="541" y="659"/><use href="#m" x="531" y="667"/><use href="#m" x="540" y="655"/><use href="#m" x="557" y="647"/><use href="#m" x="531" y="667"/><use href="#m" x="533" y="659"/><use href="#m" x="544" y="653"/><use href="#m" x="518" y="672"/><use href="#m" x="532" y="656"/><use href="#m" x="540" y="652"/><use href="#m" x="540" y="655"/><use href="#m" x="544" y="654"/><use href="#m" x="531" y="662"/><use href="#m" x="532" y="664"/><use href="#m" x="524" y="671"/><use href="#m" x="548" y="658"/><use href="#m" x="550" y="648"/><use href="#m" x="545" y="652"/><use href="#m" x="526" y="665"/><use href="#m" x="543" y="649"/><use href="#m" x="535" y="654"/><use href="#m" x="543" y="655"/><use href="#m" x="529" y="663"/><use href="#m" x="522" y="670"/><use href="#m" x="522" y="673"/><use href="#m" x="528" y="665"/><use href="#m" x="533" y="657"/><use href="#m" x="536" y="665"/><use href="#m" x="547" y="653"/><use href="#m" x="549" y="650"/><use href="#m" x="550" y="652"/><use href="#m" x="543" y="657"/><use href="#m" x="542" y="656"/><use href="#m" x="547" y="655"/><use href="#m" x="546" y="648"/><use href="#m" x="546" y="650"/><use href="#m" x="536" y="663"/><use href="#m" x="535" y="662"/><use href="#m" x="537" y="664"/><use href="#m" x="551" y="657"/><use href="#m" x="544" y="656"/><use href="#m" x="552" y="650"/><use href="#m" x="543" y="656"/><use href="#m" x="538" y="655"/><use href="#m" x="554" y="644"/><use href="#m" x="551" y="647"/><use href="#m" x="551" y="650"/><use href="#m" x="555" y="643"/><use href="#m" x="558" y="644"/><use href="#m" x="550" y="646"/><use href="#m" x="542" y="654"/><use href="#m" x="553" y="647"/><use href="#m" x="550" y="648"/><use href="#m" x="557" y="643"/><use href="#m" x="554" y="642"/><use href="#m" x="552" y="647"/><use href="#m" x="557" y="645"/><use href="#m" x="555" y="648"/><use href="#m" x="564" y="643"/><use href="#m" x="559" y="643"/><use href="#m" x="547" y="656"/><use href="#m" x="538" y="656"/><use href="#m" x="549" y="654"/><use href="#m" x="556" y="644"/><use href="#m" x="558" y="644"/><use href="#m" x="551" y="647"/><use href="#m" x="558" y="641"/><use href="#m" x="553" y="645"/><use href="#m" x="549" y="644"/><use href="#m" x="553" y="645"/><use href="#m" x="548" y="646"/><use href="#m" x="548" y="651"/><use href="#m" x="555" y="646"/><use href="#m" x="552" y="645"/><use href="#m" x="541" y="656"/><use href="#m" x="544" y="656"/><use href="#m" x="553" y="646"/><use href="#m" x="556" y="642"/><use href="#m" x="558" y="642"/><use href="#m" x="554" y="645"/><use href="#m" x="551" y="649"/><use href="#m" x="554" y="642"/><use href="#m" x="541" y="657"/><use href="#m" x="548" y="651"/><use href="#m" x="555" y="644"/><use href="#m" x="554" y="644"/><use href="#m" x="560" y="640"/><use href="#m" x="557" y="641"/><use href="#m" x="557" y="644"/><use href="#m" x="554" y="645"/><use href="#m" x="561" y="641"/><use href="#m" x="551" y="649"/><use href="#m" x="550" y="651"/><use href="#m" x="556" y="648"/><use href="#m" x="553" y="648"/><use href="#m" x="554" y="648"/><use href="#m" x="559" y="644"/><use href="#m" x="557" y="644"/><use href="#m" x="554" y="644"/><use href="#m" x="551" y="646"/><use href="#m" x="549" y="651"/><use href="#m" x="546" y="653"/><use href="#m" x="539" y="658"/><use href="#m" x="542" y="657"/><use href="#m" x="548" y="649"/><use href="#m" x="545" y="651"/><use href="#m" x="550" y="647"/><use href="#m" x="551" y="649"/><use href="#m" x="554" y="648"/><use href="#m" x="542" y="659"/><use href="#m" x="538" y="658"/><use href="#m" x="523" y="676"/><use href="#m" x="520" y="679"/><use href="#m" x="494" y="694"/><use href="#m" x="498" y="681"/><use href="#m" x="504" y="690"/><use href="#m" x="489" y="701"/><use href="#m" x="517" y="684"/><use href="#m" x="514" y="683"/><use href="#m" x="508" y="691"/><use href="#m" x="503" y="692"/><use href="#m" x="513" y="684"/><use href="#m" x="505" y="690"/><use href="#m" x="510" y="683"/><use href="#m" x="515" y="677"/><use href="#m" x="520" y="675"/><use href="#m" x="519" y="672"/><use href="#m" x="496" y="695"/><use href="#m" x="491" y="704"/><use href="#m" x="478" y="706"/><use href="#m" x="506" y="694"/><use href="#m" x="501" y="691"/><use href="#m" x="493" y="705"/><use href="#m" x="499" y="691"/><use href="#m" x="499" y="694"/><use href="#m" x="507" y="688"/><use href="#m" x="521" y="682"/><use href="#m" x="527" y="684"/><use href="#m" x="512" y="691"/><use href="#m" x="511" y="686"/><use href="#m" x="511" y="693"/><use href="#m" x="473" y="710"/></g>
</g>
</g>
<rect x="53.5" y="832.5" width="547" height="84" fill="none"/>
<path d="M53 860.5H600" stroke-dasharray="3 3"/>
<path d="M53 888.5H600" stroke-dasharray="3 3"/>
<path d="M48 916.5H53"/>
<path d="M48 888.5H53"/>
<path d="M48 860.5H53"/>
<path d="M48 832.5H53"/>
<path d="M53.5 919V924"/>
<path d="M107.5 919V924"/>
<path d="M161.5 919V924"/>
<path d="M216.5 919V924"/>
<path d="M270.5 919V924"/>
<path d="M325.5 919V924"/>
<path d="M379.5 919V924"/>
<path d="M433.5 919V924"/>
<path d="M488.5 919V924"/>
<path d="M542.5 919V924"/>
<path d="M597.5 919V924"/>
<path d="M600.5 919V924"/>
<g fill="#fff">
<g stroke="#0000ff"><use href="#m" x="56" y="858"/><use href="#m" x="59" y="858"/><use href="#m" x="61" y="856"/><use href="#m" x="64" y="866"/><use href="#m" x="67" y="873"/><use href="#m" x="70" y="875"/><use href="#m" x="72" y="877"/><use href="#m" x="75" y="873"/><use href="#m" x="78" y="871"/><use href="#m" x="80" y="872"/><use href="#m" x="83" y="885"/><use href="#m" x="86" y="880"/><use href="#m" x="89" y="887"/><use href="#m" x="91" y="885"/><use href="#m" x="94" y="883"/><use href="#m" x="97" y="878"/><use href="#m" x="100" y="874"/><use href="#m" x="102" y="885"/><use href="#m" x="105" y="885"/><use href="#m" x="108" y="890"/><use href="#m" x="110" y="885"/><use href="#m" x="113" y="884"/><use href="#m" x="116" y="876"/><use href="#m" x="119" y="876"/><use href="#m" x="121" y="875"/><use href="#m" x="124" y="884"/><use href="#m" x="127" y="888"/><use href="#m" x="129" y="884"/><use href="#m" x="132" y="881"/><use href="#m" x="135" y="884"/><use href="#m" x="138" y="877"/><use href="#m" x="140" y="886"/><use href="#m" x="143" y="880"/><use href="#m" x="146" y="884"/><use href="#m" x="148" y="878"/><use href="#m" x="151" y="880"/><use href="#m" x="154" y="883"/><use href="#m" x="157" y="883"/><use href="#m" x="159" y="875"/><use href="#m" x="162" y="880"/><use href="#m" x="165" y="884"/><use href="#m" x="168" y="885"/><use href="#m" x="170" y="886"/><use href="#m" x="173" y="888"/><use href="#m" x="176" y="890"/><use href="#m" x="178" y="888"/><use href="#m" x="181" y="889"/><use href="#m" x="184" y="889"/><use href="#m" x="187" y="885"/><use href="#m" x="189" y="886"/><use href="#m" x="192" y="882"/><use href="#m" x="195" y="878"/><use href="#m" x="197" y="884"/><use href="#m" x="200" y="890"/><use href="#m" x="203" y="881"/><use href="#m" x="206" y="889"/><use href="#m" x="208" y="888"/><use href="#m" x="211" y="889"/><use href="#m" x="214" y="888"/><use href="#m" x="217" y="882"/><use href="#m" x="219" y="883"/><use href="#m" x="222" y="890"/><use href="#m" x="225" y="884"/><use href="#m" x="227" y="877"/><use href="#m" x="230" y="880"/><use href="#m" x="233" y="877"/><use href="#m" x="236" y="877"/><use href="#m" x="238" y="877"/><use href="#m" x="241" y="875"/><use href="#m" x="244" y="881"/><use href="#m" x="246" y="877"/><use href="#m" x="249" y="879"/><use href="#m" x="252" y="885"/><use href="#m" x="255" y="885"/><use href="#m" x="257" y="879"/><use href="#m" x="260" y="879"/><use href="#m" x="263" y="878"/><use href="#m" x="265" y="879"/><use href="#m" x="268" y="879"/><use href="#m" x="271" y="879"/><use href="#m" x="274" y="880"/><use href="#m" x="276" y="884"/><use href="#m" x="279" y="877"/><use href="#m" x="282" y="882"/><use href="#m" x="285" y="881"/><use href="#m" x="287" y="888"/><use href="#m" x="290" y="878"/><use href="#m" x="293" y="882"/><use href="#m" x="295" y="885"/><use href="#m" x="298" y="883"/><use href="#m" x="301" y="882"/><use href="#m" x="304" y="884"/><use href="#m" x="306" y="877"/><use href="#m" x="309" y="880"/><use href="#m" x="312" y="876"/><use href="#m" x="314" y="875"/><use href="#m" x="317" y="884"/><use href="#m" x="320" y="886"/><use href="#m" x="323" y="882"/><use href="#m" x="325" y="882"/><use href="#m" x="328" y="885"/><use href="#m" x="331" y="883"/><use href="#m" x="333" y="886"/><use href="#m" x="336" y="883"/><use href="#m" x="339" y="887"/><use href="#m" x="342" y="882"/><use href="#m" x="344" y="889"/><use href="#m" x="347" y="883"/><use href="#m" x="350" y="879"/><use href="#m" x="353" y="884"/><use href="#m" x="355" y="882"/><use href="#m" x="358" y="882"/><use href="#m" x="361" y="883"/><use href="#m" x="363" y="884"/><use href="#m" x="366" y="888"/><use href="#m" x="369" y="886"/><use href="#m" x="372" y="890"/><use href="#m" x="374" y="882"/><use href="#m" x="377" y="885"/><use href="#m" x="380" y="882"/><use href="#m" x="382" y="881"/><use href="#m" x="385" y="881"/><use href="#m" x="388" y="887"/><use href="#m" x="391" y="884"/><use href="#m" x="393" y="885"/><use href="#m" x="396" y="882"/><use href="#m" x="399" y="877"/><use href="#m" x="401" y="885"/><use href="#m" x="404" y="884"/><use href="#m" x="407" y="884"/><use href="#m" x="410" y="884"/><use href="#m" x="412" y="882"/><use href="#m" x="415" y="886"/><use href="#m" x="418" y="883"/><use href="#m" x="421" y="882"/><use href="#m" x="423" y="882"/><use href="#m" x="426" y="885"/><use href="#m" x="429" y="887"/><use href="#m" x="431" y="882"/><use href="#m" x="434" y="881"/><use href="#m" x="437" y="884"/><use href="#m" x="440" y="882"/><use href="#m" x="442" y="882"/><use href="#m" x="445" y="882"/><use href="#m" x="448" y="887"/><use href="#m" x="450" y="881"/><use href="#m" x="453" y="885"/><use href="#m" x="456" y="883"/><use href="#m" x="459" y="886"/><use href="#m" x="461" y="886"/><use href="#m" x="464" y="885"/><use href="#m" x="467" y="887"/><use href="#m" x="469" y="886"/><use href="#m" x="472" y="886"/><use href="#m" x="475" y="887"/><use href="#m" x="478" y="884"/><use href="#m" x="480" y="881"/><use href="#m" x="483" y="883"/><use href="#m" x="486" y="883"/><use href="#m" x="489" y="883"/><use href="#m" x="491" y="882"/><use href="#m" x="494" y="886"/><use href="#m" x="497" y="881"/><use href="#m" x="499" y="885"/><use href="#m" x="502" y="881"/><use href="#m" x="505" y="876"/><use href="#m" x="508" y="883"/><use href="#m" x="510" y="882"/><use href="#m" x="513" y="885"/><use href="#m" x="516" y="884"/><use href="#m" x="518" y="879"/><use href="#m" x="521" y="877"/><use href="#m" x="524" y="873"/><use href="#m" x="527" y="878"/><use href="#m" x="529" y="879"/><use href="#m" x="532" y="882"/><use href="#m" x="535" y="877"/><use href="#m" x="537" y="879"/><use href="#m" x="540" y="881"/><use href="#m" x="543" y="883"/><use href="#m" x="546" y="884"/><use href="#m" x="548" y="871"/><use href="#m" x="551" y="877"/><use href="#m" x="554" y="878"/><use href="#m" x="556" y="877"/><use href="#m" x="559" y="883"/><use href="#m" x="562" y="878"/><use href="#m" x="565" y="877"/><use href="#m" x="567" y="874"/><use href="#m" x="570" y="879"/><use href="#m" x="573" y="883"/><use href="#m" x="576" y="872"/><use href="#m" x="578" y="883"/><use href="#m" x="581" y="880"/><use href="#m" x="584" y="888"/><use href="#m" x="586" y="890"/><use href="#m" x="589" y="889"/><use href="#m" x="592" y="880"/><use href="#m" x="595" y="871"/><use href="#m" x="597" y="871"/></g>
<g stroke="#ff0000"><use href="#m" x="56" y="865"/><use href="#m" x="59" y="865"/><use href="#m" x="61" y="863"/><use href="#m" x="64" y="868"/><use href="#m" x="67" y="890"/><use href="#m" x="70" y="876"/><use href="#m" x="72" y="877"/><use href="#m" x="75" y="871"/><use href="#m" x="78" y="870"/><use href="#m" x="80" y="874"/><use href="#m" x="83" y="886"/><use href="#m" x="86" y="880"/><use href="#m" x="89" y="885"/><use href="#m" x="91" y="885"/><use href="#m" x="94" y="882"/><use href="#m" x="97" y="878"/><use href="#m" x="100" y="876"/><use href="#m" x="102" y="881"/><use href="#m" x="105" y="885"/><use href="#m" x="108" y="887"/><use href="#m" x="110" y="883"/><use href="#m" x="113" y="882"/><use href="#m" x="116" y="878"/><use href="#m" x="119" y="877"/><use href="#m" x="121" y="876"/><use href="#m" x="124" y="882"/><use href="#m" x="127" y="886"/><use href="#m" x="129" y="884"/><use href="#m" x="132" y="882"/><use href="#m" x="135" y="884"/><use href="#m" x="138" y="879"/><use href="#m" x="140" y="886"/><use href="#m" x="143" y="884"/><use href="#m" x="146" y="886"/><use href="#m" x="148" y="883"/><use href="#m" x="151" y="881"/><use href="#m" x="154" y="882"/><use href="#m" x="157" y="881"/><use href="#m" x="159" y="877"/><use href="#m" x="162" y="882"/><use href="#m" x="165" y="885"/><use href="#m" x="168" y="887"/><use href="#m" x="170" y="886"/><use href="#m" x="173" y="887"/><use href="#m" x="176" y="890"/><use href="#m" x="178" y="884"/><use href="#m" x="181" y="887"/><use href="#m" x="184" y="890"/><use href="#m" x="187" y="886"/><use href="#m" x="189" y="888"/><use href="#m" x="192" y="884"/><use href="#m" x="195" y="880"/><use href="#m" x="197" y="884"/><use href="#m" x="200" y="887"/><use href="#m" x="203" y="881"/><use href="#m" x="206" y="887"/><use href="#m" x="208" y="889"/><use href="#m" x="211" y="888"/><use href="#m" x="214" y="888"/><use href="#m" x="217" y="881"/><use href="#m" x="219" y="882"/><use href="#m" x="222" y="888"/><use href="#m" x="225" y="881"/><use href="#m" x="227" y="879"/><use href="#m" x="230" y="881"/><use href="#m" x="233" y="876"/><use href="#m" x="236" y="876"/><use href="#m" x="238" y="877"/><use href="#m" x="241" y="882"/><use href="#m" x="244" y="882"/><use href="#m" x="246" y="877"/><use href="#m" x="249" y="878"/><use href="#m" x="252" y="881"/><use href="#m" x="255" y="886"/><use href="#m" x="257" y="882"/><use href="#m" x="260" y="882"/><use href="#m" x="263" y="879"/><use href="#m" x="265" y="878"/><use href="#m" x="268" y="877"/><use href="#m" x="271" y="879"/><use href="#m" x="274" y="879"/><use href="#m" x="276" y="882"/><use href="#m" x="279" y="881"/><use href="#m" x="282" y="880"/><use href="#m" x="285" y="880"/><use href="#m" x="287" y="883"/><use href="#m" x="290" y="881"/><use href="#m" x="293" y="882"/><use href="#m" x="295" y="885"/><use href="#m" x="298" y="884"/><use href="#m" x="301" y="881"/><use href="#m" x="304" y="883"/><use href="#m" x="306" y="877"/><use href="#m" x="309" y="879"/><use href="#m" x="312" y="877"/><use href="#m" x="314" y="877"/><use href="#m" x="317" y="885"/><use href="#m" x="320" y="890"/><use href="#m" x="323" y="884"/><use href="#m" x="325" y="886"/><use href="#m" x="328" y="886"/><use href="#m" x="331" y="884"/><use href="#m" x="333" y="884"/><use href="#m" x="336" y="883"/><use href="#m" x="339" y="885"/><use href="#m" x="342" y="882"/><use href="#m" x="344" y="887"/><use href="#m" x="347" y="884"/><use href="#m" x="350" y="885"/><use href="#m" x="353" y="883"/><use href="#m" x="355" y="883"/><use href="#m" x="358" y="883"/><use href="#m" x="361" y="881"/><use href="#m" x="363" y="884"/><use href="#m" x="366" y="888"/><use href="#m" x="369" y="887"/><use href="#m" x="372" y="890"/><use href="#m" x="374" y="888"/><use href="#m" x="377" y="887"/><use href="#m" x="380" y="885"/><use href="#m" x="382" y="886"/><use href="#m" x="385" y="884"/><use href="#m" x="388" y="887"/><use href="#m" x="391" y="885"/><use href="#m" x="393" y="885"/><use href="#m" x="396" y="883"/><use href="#m" x="399" y="880"/><use href="#m" x="401" y="881"/><use href="#m" x="404" y="881"/><use href="#m" x="407" y="884"/><use href="#m" x="410" y="885"/><use href="#m" x="412" y="882"/><use href="#m" x="415" y="886"/><use href="#m" x="418" y="885"/><use href="#m" x="421" y="884"/><use href="#m" x="423" y="882"/><use href="#m" x="426" y="884"/><use href="#m" x="429" y="884"/><use href="#m" x="431" y="883"/><use href="#m" x="434" y="881"/><use href="#m" x="437" y="883"/><use href="#m" x="440" y="884"/><use href="#m" x="442" y="882"/><use href="#m" x="445" y="881"/><use href="#m" x="448" y="883"/><use href="#m" x="450" y="883"/><use href="#m" x="453" y="884"/><use href="#m" x="456" y="884"/><use href="#m" x="459" y="887"/><use href="#m" x="461" y="885"/><use href="#m" x="464" y="885"/><use href="#m" x="467" y="886"/><use href="#m" x="469" y="885"/><use href="#m" x="472" y="886"/><use href="#m" x="475" y="886"/><use href="#m" x="478" y="886"/><use href="#m" x="480" y="881"/><use href="#m" x="483" y="881"/><use href="#m" x="486" y="884"/><use href="#m" x="489" y="882"/><use href="#m" x="491" y="884"/><use href="#m" x="494" y="882"/><use href="#m" x="497" y="882"/><use href="#m" x="499" y="881"/><use href="#m" x="502" y="881"/><use href="#m" x="505" y="883"/><use href="#m" x="508" y="884"/><use href="#m" x="510" y="884"/><use href="#m" x="513" y="883"/><use href="#m" x="516" y="882"/><use href="#m" x="518" y="879"/><use href="#m" x="521" y="878"/><use href="#m" x="524" y="868"/><use href="#m" x="527" y="876"/><use href="#m" x="529" y="877"/><use href="#m" x="532" y="881"/><use href="#m" x="535" y="881"/><use href="#m" x="537" y="879"/><use href="#m" x="540" y="881"/><use href="#m" x="543" y="883"/><use href="#m" x="546" y="882"/><use href="#m" x="548" y="878"/><use href="#m" x="551" y="877"/><use href="#m" x="554" y="881"/><use href="#m" x="556" y="876"/><use href="#m" x="559" y="880"/><use href="#m" x="562" y="882"/><use href="#m" x="565" y="878"/><use href="#m" x="567" y="878"/><use href="#m" x="570" y="879"/><use href="#m" x="573" y="880"/><use href="#m" x="576" y="874"/><use href="#m" x="578" y="882"/><use href="#m" x="581" y="878"/><use href="#m" x="584" y="886"/><use href="#m" x="586" y="890"/><use href="#m" x="589" y="887"/><use href="#m" x="592" y="881"/><use href="#m" x="595" y="880"/><use href="#m" x="597" y="872"/></g>
</g>
</g>
<text x="42.8" y="125" text-anchor="end">0.5</text>
<text x="42.8" y="143" text-anchor="end">0</text>
<text x="42.8" y="160" text-anchor="end">-0.5</text>
<text x="42.8" y="219" text-anchor="end">0.5</text>
<text x="42.8" y="237" text-anchor="end">0</text>
<text x="42.8" y="254" text-anchor="end">-0.5</text>
<text x="42.8" y="338" text-anchor="end">0.5</text>
<text x="42.8" y="356" text-anchor="end">0</text>
<text x="42.8" y="373" text-anchor="end">-0.5</text>
<text x="53.7" y="96" textLength="423.8" lengthAdjust="spacing">Left: Crest=16.98 dB, RMS=-18.39 dBFS, Peak=-1.41 dBFS</text>
<text x="53.7" y="190" textLength="435" lengthAdjust="spacing">Right: Crest=16.44 dB, RMS=-17.48 dBFS, Peak=-1.03 dBFS</text>
<text x="53.7" y="309" textLength="469" lengthAdjust="spacing">Loudest part (right ch, 10 samples &gt;95% during 20 ms at 117.49 s)</text>
<text x="107.4" y="287" text-anchor="middle">20</text>
<text x="107.4" y="940" text-anchor="middle">20</text>
<text x="161.8" y="287" text-anchor="middle">40</text>
<text x="161.8" y="940" text-anchor="middle">40</text>
<text x="216.20000000000002" y="287" text-anchor="middle">60</text>
<text x="216.20000000000002" y="940" text-anchor="middle">60</text>
<text x="270.6" y="287" text-anchor="middle">80</text>
<text x="270.6" y="940" text-anchor="middle">80</text>
<text x="325.0" y="287" text-anchor="middle">100</text>
<text x="325.0" y="940" text-anchor="middle">100</text>
<text x="379.40000000000003" y="287" text-anchor="middle">120</text>
<text x="379.40000000000003" y="940" text-anchor="middle">120</text>
<text x="433.8" y="287" text-anchor="middle">140</text>
<text x="433.8" y="940" text-anchor="middle">140</text>
<text x="488.20000000000005" y="287" text-anchor="middle">160</text>
<text x="488.20000000000005" y="940" text-anchor="middle">160</text>
<text x="542.6" y="287" text-anchor="middle">180</text>
<text x="542.6" y="940" text-anchor="middle">180</text>
<text x="597.5" y="287" text-anchor="middle">s</text>
<text x="597.5" y="940" text-anchor="middle">s</text>
<text x="160" y="406" text-anchor="middle">117.46</text>
<text x="269" y="406" text-anchor="middle">117.48</text>
<text x="378" y="406" text-anchor="middle">117.5</text>
<text x="487.5" y="406" text-anchor="middle">117.52</text>
<text x="597.5" y="406" text-anchor="middle">s</text>
<text x="53.7" y="428" textLength="299.5" lengthAdjust="spacing">Normalized average spectrum, 201 frames</text>
<text x="3" y="450">dB</text>
<text x="42.8" y="477" text-anchor="end">-30</text>
<text x="42.8" y="496" text-anchor="end">-40</text>
<text x="42.8" y="515" text-anchor="end">-50</text>
<text x="42.8" y="533" text-anchor="end">-60</text>
<text x="42.8" y="552" text-anchor="end">-70</text>
<text x="42.8" y="570" text-anchor="end">-80</text>
<text x="99.26310099728433" y="605" text-anchor="middle">0.05</text>
<text x="133.88155049864218" y="605" text-anchor="middle">0.1</text>
<text x="168.5" y="605" text-anchor="middle">0.2</text>
<text x="214.26310099728434" y="605" text-anchor="middle">0.5</text>
<text x="248.88155049864216" y="605" text-anchor="middle">1</text>
<text x="283.5" y="605" text-anchor="middle">2</text>
<text x="303.75049479140336" y="605" text-anchor="middle">3</text>
<text x="318.1184495013579" y="605" text-anchor="middle">4</text>
<text x="329.2631009972843" y="605" text-anchor="middle">5</text>
<text x="346.0678251002817" y="605" text-anchor="middle">7</text>
<text x="385" y="605" text-anchor="middle">kHz</text>
<text x="451" y="428" textLength="153" lengthAdjust="spacing">Allpassed crest factor</text>
<text x="401.5" y="450">dB</text>
<text x="440.8" y="564" text-anchor="end">5</text>
<text x="440.8" y="539" text-anchor="end">10</text>
<text x="440.8" y="515" text-anchor="end">15</text>
<text x="440.8" y="490" text-anchor="end">20</text>
<text x="486.2155102153556" y="605" text-anchor="middle">0.1</text>
<text x="535.8821768820222" y="605" text-anchor="middle">1</text>
<text x="550.8333333333334" y="605" text-anchor="middle">2</text>
<text x="587" y="605" text-anchor="middle">kHz</text>
<text x="53.7" y="627" textLength="192.5" lengthAdjust="spacing">Histogram, "bits": 15.3/15.5</text>
<text x="3" y="649">n</text>
<text x="42.8" y="754" text-anchor="end">10</text>
<text x="42.8" y="723" text-anchor="end">100</text>
<text x="42.8" y="691" text-anchor="end">1000</text>
<text x="69.5" y="804" text-anchor="middle">-1</text>
<text x="100.5" y="804" text-anchor="middle">-0.8</text>
<text x="132.5" y="804" text-anchor="middle">-0.6</text>
<text x="163.5" y="804" text-anchor="middle">-0.4</text>
<text x="194.5" y="804" text-anchor="middle">-0.2</text>
<text x="226.5" y="804" text-anchor="middle">0</text>
<text x="257.5" y="804" text-anchor="middle">0.2</text>
<text x="288.5" y="804" text-anchor="middle">0.4</text>
<text x="319.5" y="804" text-anchor="middle">0.6</text>
<text x="351.5" y="804" text-anchor="middle">0.8</text>
<text x="382.5" y="804" text-anchor="middle">1</text>
<text x="452" y="627" textLength="129" lengthAdjust="spacing">Peak vs RMS level</text>
<text x="401.5" y="649">dBFS</text>
<text x="440.8" y="670" text-anchor="end">-10</text>
<text x="440.8" y="700" text-anchor="end">-20</text>
<text x="440.8" y="729" text-anchor="end">-30</text>
<text x="440.8" y="759" text-anchor="end">-40</text>
<text x="480.94" y="804" text-anchor="middle">-40</text>
<text x="510.38" y="804" text-anchor="middle">-30</text>
<text x="539.8199999999999" y="804" text-anchor="middle">-20</text>
<text x="582" y="804" text-anchor="middle">dBFS</text>
<text x="484" y="764.0" font-size="11.5" text-anchor="middle" transform="rotate(-45 484 764.0)" dy="4" fill="#222">0 dB</text>
<text x="464" y="754.6" font-size="11.5" text-anchor="middle" transform="rotate(-45 464 754.6)" dy="4" fill="#222">10</text>
<text x="464.5" y="724.6" font-size="11.5" text-anchor="middle" transform="rotate(-45 464.5 724.6)" dy="4" fill="#222">20</text>
<text x="463" y="696.7" font-size="11.5" text-anchor="middle" transform="rotate(-45 463 696.7)" dy="4" fill="#222">30</text>
<text x="464" y="666.2" font-size="11.5" text-anchor="middle" transform="rotate(-45 464 666.2)" dy="4" fill="#222">40</text>
<text x="53.7" y="826" textLength="196" lengthAdjust="spacing">Short term (1 s) crest factor</text>
<text x="297.8" y="826" textLength="140" lengthAdjust="spacing">Checksum (energy):</text>
<text x="602.5" y="826" text-anchor="end" textLength="152.3" lengthAdjust="spacing">308 582 288 031 094</text>
<text x="3" y="848">dB</text>
<text x="42.8" y="894" text-anchor="end">10</text>
</svg>
</body></html>
